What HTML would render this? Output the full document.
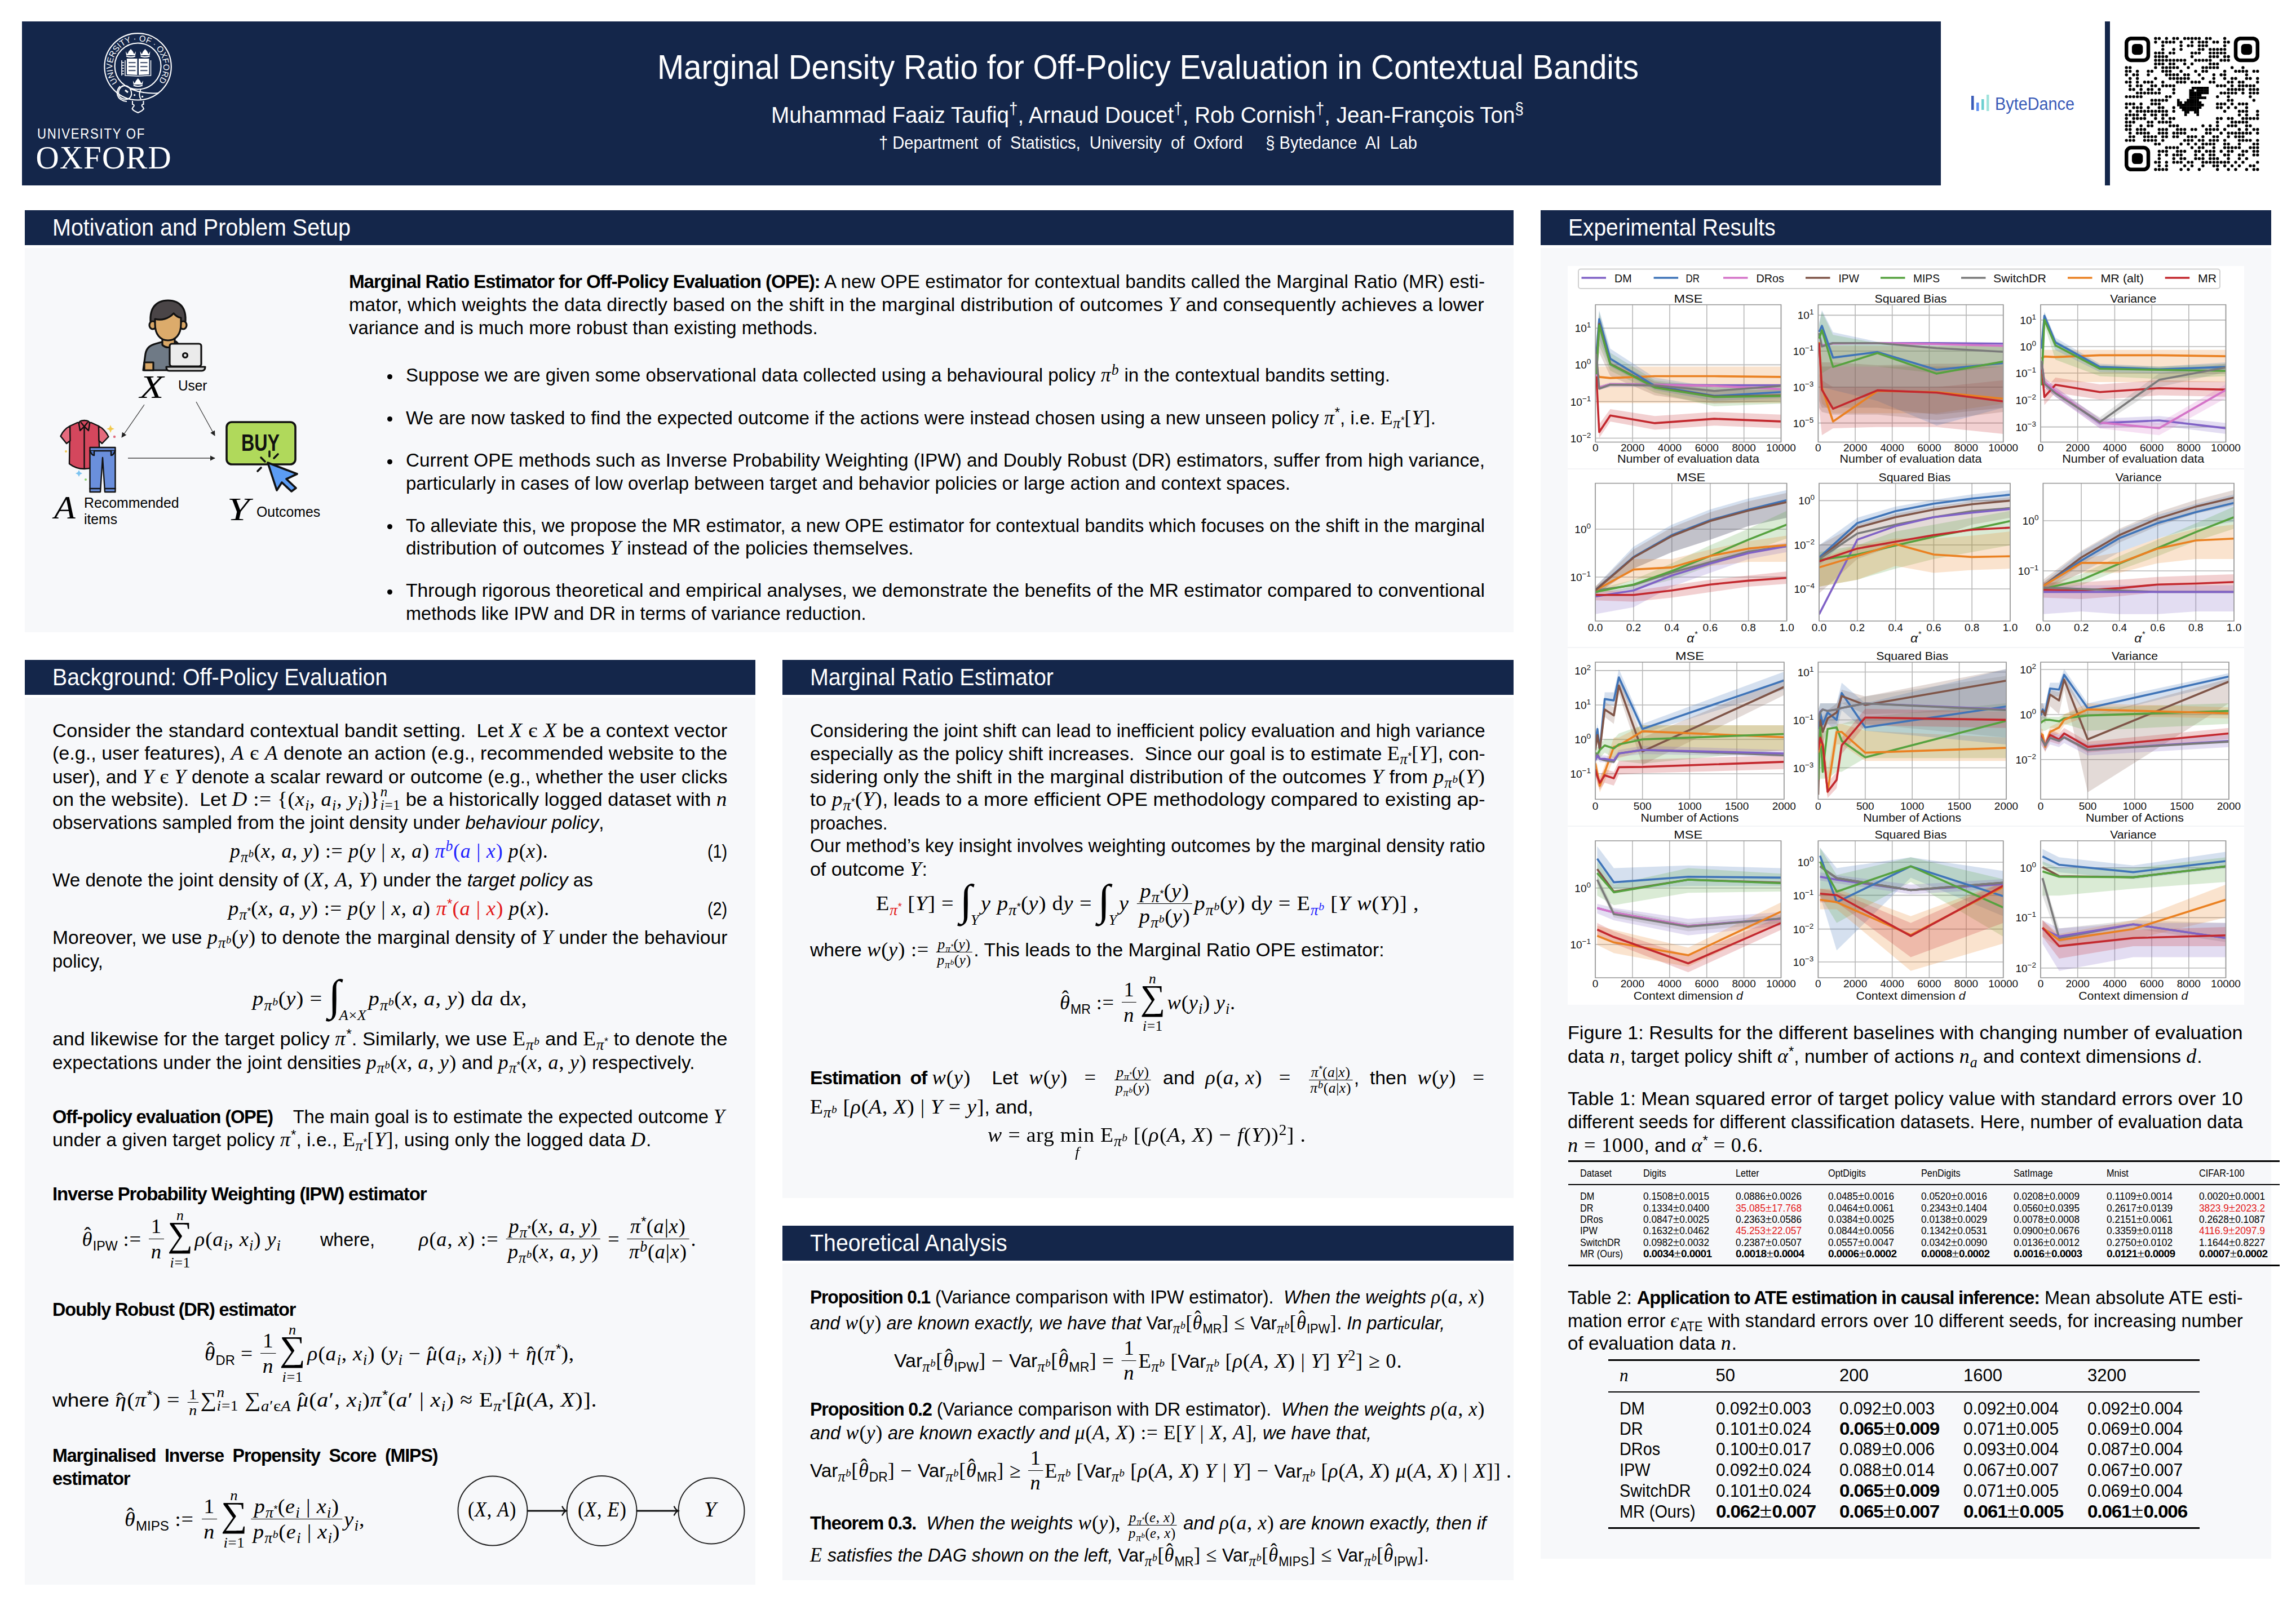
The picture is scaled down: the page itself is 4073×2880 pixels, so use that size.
<!DOCTYPE html><html><head><meta charset="utf-8"><title>poster</title><style>
html,body{margin:0;padding:0;background:#fff;}
body{width:4073px;height:2880px;position:relative;overflow:hidden;font-family:"Liberation Sans",sans-serif;color:#000;}
.L{position:absolute;white-space:nowrap;line-height:1;transform-origin:0 0;}
.s{font-family:"Liberation Sans",sans-serif;}
.b{font-family:"Liberation Sans",sans-serif;font-weight:bold;}
.mi{font-family:"Liberation Serif",serif;font-style:italic;font-size:1.08em;letter-spacing:0.03em;}
.mi .mi,.mi .mr,.mr .mi,.mr .mr{font-size:1em;}
.mr{font-family:"Liberation Serif",serif;font-style:normal;font-size:1.08em;letter-spacing:0.02em;}
.it{font-style:italic;}
.bf{font-weight:bold;}
sub,sup{font-size:0.72em;line-height:0;position:relative;vertical-align:baseline;}
sub{top:0.32em;}
sup{top:-0.5em;}
.fr{display:inline-block;vertical-align:-0.65em;text-align:center;margin:0 0.1em;}
.fr .nu{display:block;padding:0 0.1em 0.08em;border-bottom:0.05em solid currentColor;line-height:1.05;}
.fr .de{display:block;padding:0.08em 0.1em 0;line-height:1.05;}
.frs{display:inline-block;vertical-align:-0.62em;text-align:center;font-size:0.7em;margin:0 0.1em;}
.frs .nu{display:block;padding:0 0.1em 0.02em;border-bottom:0.07em solid currentColor;line-height:1.0;}
.frs .de{display:block;padding:0.04em 0.1em 0;line-height:1.0;}
.op{display:inline-block;position:relative;margin:0 0.1em;line-height:1;}
.op .sy{font-family:"Liberation Serif",serif;font-size:1.85em;line-height:1;}
.op .lt,.op .lb{position:absolute;left:-1em;right:-1em;text-align:center;font-size:0.7em;line-height:1;white-space:nowrap;}
.op .lt{top:-0.62em;}
.op .lb{top:2.9em;}
.int{font-family:"Liberation Serif",serif;font-size:2.27em;vertical-align:-0.1em;line-height:1;}
.isub{font-size:0.68em;position:relative;top:1.1em;margin-left:-0.12em;margin-right:0.12em;}
.hat{position:relative;display:inline-block;}
.hat>span{position:absolute;left:0.1em;top:-0.2em;font-style:normal;}
.hatx>span{top:0.02em;left:0.05em;}
b{letter-spacing:-0.035em;}
.pm{font-family:"Liberation Serif",serif;font-size:1.2em;line-height:0;}
.bm{display:inline-block;width:0;height:0;}
</style></head><body>
<div style="position:absolute;left:39px;top:38px;width:3404px;height:291px;background:#14264a;"></div>
<div style="position:absolute;left:3734px;top:38px;width:9px;height:291px;background:#14264a;"></div>
<div style="position:absolute;left:44px;top:373px;width:2641px;height:62px;background:#14264a;"></div>
<div style="position:absolute;left:44px;top:440px;width:2641px;height:682px;background:#f7f8fa;"></div>
<div style="position:absolute;left:44px;top:1171px;width:1296px;height:62px;background:#14264a;"></div>
<div style="position:absolute;left:44px;top:1238px;width:1296px;height:1574px;background:#f7f8fa;"></div>
<div style="position:absolute;left:1388px;top:1171px;width:1297px;height:62px;background:#14264a;"></div>
<div style="position:absolute;left:1388px;top:1238px;width:1297px;height:888px;background:#f7f8fa;"></div>
<div style="position:absolute;left:1388px;top:2175px;width:1297px;height:62px;background:#14264a;"></div>
<div style="position:absolute;left:1388px;top:2242px;width:1297px;height:562px;background:#f7f8fa;"></div>
<div style="position:absolute;left:2733px;top:373px;width:1296px;height:62px;background:#14264a;"></div>
<div style="position:absolute;left:2733px;top:440px;width:1296px;height:2326px;background:#f7f8fa;"></div>
<svg style="position:absolute;left:0;top:0" width="420" height="330" viewBox="0 0 420 330"><g fill="none" stroke="#fff"><circle cx="244.6" cy="118.3" r="59.2" stroke-width="2.1"/><circle cx="244.6" cy="117.5" r="41" stroke-width="2.1"/></g><defs><path id="ring" d="M 208.98,146.13 A 45.2 45.2 0 1 1 280.22,146.13"/></defs><text font-family="Liberation Sans" font-size="15" fill="#fff"><textPath href="#ring" textLength="200" lengthAdjust="spacingAndGlyphs">UNIVERSITY · OF · OXFORD</textPath></text><path d="M223,91 L226,96 L228.5,91 L232,87 L235.5,91 L238,96 L241,91 L240,98 L224,98 Z" fill="#fff"/><path d="M224,99.5 Q232,102.5 240,99.5" stroke="#fff" stroke-width="2" fill="none"/><path d="M248.5,91 L251.5,96 L254.0,91 L257.5,87 L261.0,91 L263.5,96 L266.5,91 L265.5,98 L249.5,98 Z" fill="#fff"/><path d="M249.5,99.5 Q257.5,102.5 265.5,99.5" stroke="#fff" stroke-width="2" fill="none"/><path d="M235.8,143 L238.8,148 L241.3,143 L244.8,139 L248.3,143 L250.8,148 L253.8,143 L252.8,150 L236.8,150 Z" fill="#fff"/><path d="M236.8,151.5 Q244.8,154.5 252.8,151.5" stroke="#fff" stroke-width="2" fill="none"/><path d="M225,104 L243.5,104 L243.5,133 L225,132 Z M246,104 L264.5,104 L264.5,132 L246,133 Z" fill="#fff"/><path d="M222,107 L222,134 L244.8,135 L267.5,134 L267.5,107" fill="none" stroke="#fff" stroke-width="1.5"/><path d="M216,107 L216,134 M216,111 L220,111 M216,116 L220,116 M216,121 L220,121 M216,126 L220,126 M216,131 L220,131" stroke="#fff" stroke-width="1.6"/><rect x="228" y="110" width="12.5" height="2.2" fill="#14264a" opacity="0.75"/><rect x="249" y="110" width="12.5" height="2.2" fill="#14264a" opacity="0.75"/><rect x="228" y="117" width="12.5" height="2.2" fill="#14264a" opacity="0.75"/><rect x="249" y="117" width="12.5" height="2.2" fill="#14264a" opacity="0.75"/><rect x="228" y="124" width="12.5" height="2.2" fill="#14264a" opacity="0.75"/><rect x="249" y="124" width="12.5" height="2.2" fill="#14264a" opacity="0.75"/><g fill="none" stroke="#fff" stroke-width="2"><path d="M218,152 C207,158 207,175 222,176 C230,177 236,170 232,160 C229,152 221,150 216,154"/><path d="M213,153 C204,162 206,178 225,180"/><path d="M232,158 C245,163 262,167 282,165"/><path d="M250,158 C246,165 247,172 250,176"/><line x1="222" y1="160" x2="227" y2="164" stroke-width="3"/></g><circle cx="238.7" cy="168.7" r="1.6" fill="#fff"/><circle cx="252.6" cy="171.4" r="1.6" fill="#fff"/><path d="M235,179 L235,185 C238,185 239,188 236,190 L234.5,193 C236,196 240,198 244.8,200 C249.5,198 253.5,196 255,193 L253.5,190 C250.5,188 251.5,185 254.5,185 L254.5,179" fill="none" stroke="#fff" stroke-width="2"/></svg>
<svg style="position:absolute;left:3769px;top:65px" width="240" height="240" viewBox="0 0 240 240"><g fill="#000"><circle cx="54.9" cy="3.2" r="2.71"/><circle cx="61.4" cy="3.2" r="2.71"/><circle cx="74.3" cy="3.2" r="2.71"/><circle cx="87.2" cy="3.2" r="2.71"/><circle cx="93.7" cy="3.2" r="2.71"/><circle cx="106.6" cy="3.2" r="2.71"/><circle cx="113.0" cy="3.2" r="2.71"/><circle cx="119.5" cy="3.2" r="2.71"/><circle cx="126.0" cy="3.2" r="2.71"/><circle cx="132.4" cy="3.2" r="2.71"/><circle cx="145.3" cy="3.2" r="2.71"/><circle cx="151.8" cy="3.2" r="2.71"/><circle cx="177.6" cy="3.2" r="2.71"/><circle cx="54.9" cy="9.7" r="2.71"/><circle cx="67.8" cy="9.7" r="2.71"/><circle cx="74.3" cy="9.7" r="2.71"/><circle cx="80.7" cy="9.7" r="2.71"/><circle cx="87.2" cy="9.7" r="2.71"/><circle cx="100.1" cy="9.7" r="2.71"/><circle cx="119.5" cy="9.7" r="2.71"/><circle cx="132.4" cy="9.7" r="2.71"/><circle cx="138.9" cy="9.7" r="2.71"/><circle cx="145.3" cy="9.7" r="2.71"/><circle cx="158.3" cy="9.7" r="2.71"/><circle cx="164.7" cy="9.7" r="2.71"/><circle cx="177.6" cy="9.7" r="2.71"/><circle cx="184.1" cy="9.7" r="2.71"/><circle cx="67.8" cy="16.1" r="2.71"/><circle cx="100.1" cy="16.1" r="2.71"/><circle cx="113.0" cy="16.1" r="2.71"/><circle cx="119.5" cy="16.1" r="2.71"/><circle cx="132.4" cy="16.1" r="2.71"/><circle cx="138.9" cy="16.1" r="2.71"/><circle cx="145.3" cy="16.1" r="2.71"/><circle cx="177.6" cy="16.1" r="2.71"/><circle cx="67.8" cy="22.6" r="2.71"/><circle cx="87.2" cy="22.6" r="2.71"/><circle cx="100.1" cy="22.6" r="2.71"/><circle cx="132.4" cy="22.6" r="2.71"/><circle cx="138.9" cy="22.6" r="2.71"/><circle cx="151.8" cy="22.6" r="2.71"/><circle cx="158.3" cy="22.6" r="2.71"/><circle cx="164.7" cy="22.6" r="2.71"/><circle cx="171.2" cy="22.6" r="2.71"/><circle cx="177.6" cy="22.6" r="2.71"/><circle cx="54.9" cy="29.1" r="2.71"/><circle cx="61.4" cy="29.1" r="2.71"/><circle cx="67.8" cy="29.1" r="2.71"/><circle cx="80.7" cy="29.1" r="2.71"/><circle cx="87.2" cy="29.1" r="2.71"/><circle cx="119.5" cy="29.1" r="2.71"/><circle cx="126.0" cy="29.1" r="2.71"/><circle cx="132.4" cy="29.1" r="2.71"/><circle cx="151.8" cy="29.1" r="2.71"/><circle cx="158.3" cy="29.1" r="2.71"/><circle cx="164.7" cy="29.1" r="2.71"/><circle cx="171.2" cy="29.1" r="2.71"/><circle cx="177.6" cy="29.1" r="2.71"/><circle cx="54.9" cy="35.5" r="2.71"/><circle cx="61.4" cy="35.5" r="2.71"/><circle cx="67.8" cy="35.5" r="2.71"/><circle cx="74.3" cy="35.5" r="2.71"/><circle cx="119.5" cy="35.5" r="2.71"/><circle cx="151.8" cy="35.5" r="2.71"/><circle cx="158.3" cy="35.5" r="2.71"/><circle cx="164.7" cy="35.5" r="2.71"/><circle cx="177.6" cy="35.5" r="2.71"/><circle cx="184.1" cy="35.5" r="2.71"/><circle cx="54.9" cy="42.0" r="2.71"/><circle cx="61.4" cy="42.0" r="2.71"/><circle cx="67.8" cy="42.0" r="2.71"/><circle cx="74.3" cy="42.0" r="2.71"/><circle cx="80.7" cy="42.0" r="2.71"/><circle cx="87.2" cy="42.0" r="2.71"/><circle cx="93.7" cy="42.0" r="2.71"/><circle cx="100.1" cy="42.0" r="2.71"/><circle cx="106.6" cy="42.0" r="2.71"/><circle cx="126.0" cy="42.0" r="2.71"/><circle cx="132.4" cy="42.0" r="2.71"/><circle cx="138.9" cy="42.0" r="2.71"/><circle cx="145.3" cy="42.0" r="2.71"/><circle cx="151.8" cy="42.0" r="2.71"/><circle cx="171.2" cy="42.0" r="2.71"/><circle cx="177.6" cy="42.0" r="2.71"/><circle cx="184.1" cy="42.0" r="2.71"/><circle cx="54.9" cy="48.4" r="2.71"/><circle cx="61.4" cy="48.4" r="2.71"/><circle cx="67.8" cy="48.4" r="2.71"/><circle cx="80.7" cy="48.4" r="2.71"/><circle cx="87.2" cy="48.4" r="2.71"/><circle cx="106.6" cy="48.4" r="2.71"/><circle cx="119.5" cy="48.4" r="2.71"/><circle cx="151.8" cy="48.4" r="2.71"/><circle cx="158.3" cy="48.4" r="2.71"/><circle cx="164.7" cy="48.4" r="2.71"/><circle cx="3.2" cy="54.9" r="2.71"/><circle cx="9.7" cy="54.9" r="2.71"/><circle cx="54.9" cy="54.9" r="2.71"/><circle cx="67.8" cy="54.9" r="2.71"/><circle cx="74.3" cy="54.9" r="2.71"/><circle cx="80.7" cy="54.9" r="2.71"/><circle cx="87.2" cy="54.9" r="2.71"/><circle cx="93.7" cy="54.9" r="2.71"/><circle cx="113.0" cy="54.9" r="2.71"/><circle cx="138.9" cy="54.9" r="2.71"/><circle cx="145.3" cy="54.9" r="2.71"/><circle cx="151.8" cy="54.9" r="2.71"/><circle cx="158.3" cy="54.9" r="2.71"/><circle cx="164.7" cy="54.9" r="2.71"/><circle cx="190.6" cy="54.9" r="2.71"/><circle cx="209.9" cy="54.9" r="2.71"/><circle cx="3.2" cy="61.4" r="2.71"/><circle cx="9.7" cy="61.4" r="2.71"/><circle cx="22.6" cy="61.4" r="2.71"/><circle cx="42.0" cy="61.4" r="2.71"/><circle cx="48.4" cy="61.4" r="2.71"/><circle cx="67.8" cy="61.4" r="2.71"/><circle cx="74.3" cy="61.4" r="2.71"/><circle cx="80.7" cy="61.4" r="2.71"/><circle cx="100.1" cy="61.4" r="2.71"/><circle cx="126.0" cy="61.4" r="2.71"/><circle cx="138.9" cy="61.4" r="2.71"/><circle cx="145.3" cy="61.4" r="2.71"/><circle cx="177.6" cy="61.4" r="2.71"/><circle cx="197.0" cy="61.4" r="2.71"/><circle cx="203.5" cy="61.4" r="2.71"/><circle cx="209.9" cy="61.4" r="2.71"/><circle cx="216.4" cy="61.4" r="2.71"/><circle cx="229.3" cy="61.4" r="2.71"/><circle cx="235.8" cy="61.4" r="2.71"/><circle cx="3.2" cy="67.8" r="2.71"/><circle cx="16.1" cy="67.8" r="2.71"/><circle cx="22.6" cy="67.8" r="2.71"/><circle cx="42.0" cy="67.8" r="2.71"/><circle cx="74.3" cy="67.8" r="2.71"/><circle cx="80.7" cy="67.8" r="2.71"/><circle cx="87.2" cy="67.8" r="2.71"/><circle cx="93.7" cy="67.8" r="2.71"/><circle cx="106.6" cy="67.8" r="2.71"/><circle cx="113.0" cy="67.8" r="2.71"/><circle cx="132.4" cy="67.8" r="2.71"/><circle cx="158.3" cy="67.8" r="2.71"/><circle cx="171.2" cy="67.8" r="2.71"/><circle cx="177.6" cy="67.8" r="2.71"/><circle cx="216.4" cy="67.8" r="2.71"/><circle cx="9.7" cy="74.3" r="2.71"/><circle cx="22.6" cy="74.3" r="2.71"/><circle cx="54.9" cy="74.3" r="2.71"/><circle cx="80.7" cy="74.3" r="2.71"/><circle cx="87.2" cy="74.3" r="2.71"/><circle cx="93.7" cy="74.3" r="2.71"/><circle cx="100.1" cy="74.3" r="2.71"/><circle cx="106.6" cy="74.3" r="2.71"/><circle cx="113.0" cy="74.3" r="2.71"/><circle cx="138.9" cy="74.3" r="2.71"/><circle cx="158.3" cy="74.3" r="2.71"/><circle cx="177.6" cy="74.3" r="2.71"/><circle cx="190.6" cy="74.3" r="2.71"/><circle cx="197.0" cy="74.3" r="2.71"/><circle cx="216.4" cy="74.3" r="2.71"/><circle cx="222.9" cy="74.3" r="2.71"/><circle cx="235.8" cy="74.3" r="2.71"/><circle cx="3.2" cy="80.7" r="2.71"/><circle cx="9.7" cy="80.7" r="2.71"/><circle cx="22.6" cy="80.7" r="2.71"/><circle cx="35.5" cy="80.7" r="2.71"/><circle cx="42.0" cy="80.7" r="2.71"/><circle cx="48.4" cy="80.7" r="2.71"/><circle cx="67.8" cy="80.7" r="2.71"/><circle cx="93.7" cy="80.7" r="2.71"/><circle cx="100.1" cy="80.7" r="2.71"/><circle cx="106.6" cy="80.7" r="2.71"/><circle cx="119.5" cy="80.7" r="2.71"/><circle cx="126.0" cy="80.7" r="2.71"/><circle cx="132.4" cy="80.7" r="2.71"/><circle cx="151.8" cy="80.7" r="2.71"/><circle cx="158.3" cy="80.7" r="2.71"/><circle cx="184.1" cy="80.7" r="2.71"/><circle cx="190.6" cy="80.7" r="2.71"/><circle cx="203.5" cy="80.7" r="2.71"/><circle cx="209.9" cy="80.7" r="2.71"/><circle cx="235.8" cy="80.7" r="2.71"/><circle cx="9.7" cy="87.2" r="2.71"/><circle cx="22.6" cy="87.2" r="2.71"/><circle cx="29.1" cy="87.2" r="2.71"/><circle cx="48.4" cy="87.2" r="2.71"/><circle cx="54.9" cy="87.2" r="2.71"/><circle cx="67.8" cy="87.2" r="2.71"/><circle cx="74.3" cy="87.2" r="2.71"/><circle cx="80.7" cy="87.2" r="2.71"/><circle cx="87.2" cy="87.2" r="2.71"/><circle cx="164.7" cy="87.2" r="2.71"/><circle cx="171.2" cy="87.2" r="2.71"/><circle cx="177.6" cy="87.2" r="2.71"/><circle cx="190.6" cy="87.2" r="2.71"/><circle cx="203.5" cy="87.2" r="2.71"/><circle cx="209.9" cy="87.2" r="2.71"/><circle cx="216.4" cy="87.2" r="2.71"/><circle cx="222.9" cy="87.2" r="2.71"/><circle cx="229.3" cy="87.2" r="2.71"/><circle cx="9.7" cy="93.7" r="2.71"/><circle cx="16.1" cy="93.7" r="2.71"/><circle cx="29.1" cy="93.7" r="2.71"/><circle cx="42.0" cy="93.7" r="2.71"/><circle cx="48.4" cy="93.7" r="2.71"/><circle cx="61.4" cy="93.7" r="2.71"/><circle cx="87.2" cy="93.7" r="2.71"/><circle cx="184.1" cy="93.7" r="2.71"/><circle cx="190.6" cy="93.7" r="2.71"/><circle cx="197.0" cy="93.7" r="2.71"/><circle cx="203.5" cy="93.7" r="2.71"/><circle cx="209.9" cy="93.7" r="2.71"/><circle cx="222.9" cy="93.7" r="2.71"/><circle cx="229.3" cy="93.7" r="2.71"/><circle cx="235.8" cy="93.7" r="2.71"/><circle cx="22.6" cy="100.1" r="2.71"/><circle cx="29.1" cy="100.1" r="2.71"/><circle cx="35.5" cy="100.1" r="2.71"/><circle cx="42.0" cy="100.1" r="2.71"/><circle cx="48.4" cy="100.1" r="2.71"/><circle cx="54.9" cy="100.1" r="2.71"/><circle cx="61.4" cy="100.1" r="2.71"/><circle cx="87.2" cy="100.1" r="2.71"/><circle cx="171.2" cy="100.1" r="2.71"/><circle cx="177.6" cy="100.1" r="2.71"/><circle cx="184.1" cy="100.1" r="2.71"/><circle cx="190.6" cy="100.1" r="2.71"/><circle cx="197.0" cy="100.1" r="2.71"/><circle cx="209.9" cy="100.1" r="2.71"/><circle cx="222.9" cy="100.1" r="2.71"/><circle cx="229.3" cy="100.1" r="2.71"/><circle cx="235.8" cy="100.1" r="2.71"/><circle cx="3.2" cy="106.6" r="2.71"/><circle cx="9.7" cy="106.6" r="2.71"/><circle cx="16.1" cy="106.6" r="2.71"/><circle cx="22.6" cy="106.6" r="2.71"/><circle cx="29.1" cy="106.6" r="2.71"/><circle cx="74.3" cy="106.6" r="2.71"/><circle cx="80.7" cy="106.6" r="2.71"/><circle cx="164.7" cy="106.6" r="2.71"/><circle cx="184.1" cy="106.6" r="2.71"/><circle cx="222.9" cy="106.6" r="2.71"/><circle cx="48.4" cy="113.0" r="2.71"/><circle cx="54.9" cy="113.0" r="2.71"/><circle cx="61.4" cy="113.0" r="2.71"/><circle cx="67.8" cy="113.0" r="2.71"/><circle cx="74.3" cy="113.0" r="2.71"/><circle cx="184.1" cy="113.0" r="2.71"/><circle cx="190.6" cy="113.0" r="2.71"/><circle cx="229.3" cy="113.0" r="2.71"/><circle cx="3.2" cy="119.5" r="2.71"/><circle cx="9.7" cy="119.5" r="2.71"/><circle cx="16.1" cy="119.5" r="2.71"/><circle cx="29.1" cy="119.5" r="2.71"/><circle cx="48.4" cy="119.5" r="2.71"/><circle cx="54.9" cy="119.5" r="2.71"/><circle cx="61.4" cy="119.5" r="2.71"/><circle cx="164.7" cy="119.5" r="2.71"/><circle cx="171.2" cy="119.5" r="2.71"/><circle cx="177.6" cy="119.5" r="2.71"/><circle cx="190.6" cy="119.5" r="2.71"/><circle cx="203.5" cy="119.5" r="2.71"/><circle cx="209.9" cy="119.5" r="2.71"/><circle cx="216.4" cy="119.5" r="2.71"/><circle cx="3.2" cy="126.0" r="2.71"/><circle cx="16.1" cy="126.0" r="2.71"/><circle cx="22.6" cy="126.0" r="2.71"/><circle cx="29.1" cy="126.0" r="2.71"/><circle cx="42.0" cy="126.0" r="2.71"/><circle cx="61.4" cy="126.0" r="2.71"/><circle cx="67.8" cy="126.0" r="2.71"/><circle cx="87.2" cy="126.0" r="2.71"/><circle cx="164.7" cy="126.0" r="2.71"/><circle cx="171.2" cy="126.0" r="2.71"/><circle cx="184.1" cy="126.0" r="2.71"/><circle cx="197.0" cy="126.0" r="2.71"/><circle cx="216.4" cy="126.0" r="2.71"/><circle cx="9.7" cy="132.4" r="2.71"/><circle cx="22.6" cy="132.4" r="2.71"/><circle cx="29.1" cy="132.4" r="2.71"/><circle cx="35.5" cy="132.4" r="2.71"/><circle cx="42.0" cy="132.4" r="2.71"/><circle cx="48.4" cy="132.4" r="2.71"/><circle cx="54.9" cy="132.4" r="2.71"/><circle cx="61.4" cy="132.4" r="2.71"/><circle cx="67.8" cy="132.4" r="2.71"/><circle cx="74.3" cy="132.4" r="2.71"/><circle cx="87.2" cy="132.4" r="2.71"/><circle cx="177.6" cy="132.4" r="2.71"/><circle cx="203.5" cy="132.4" r="2.71"/><circle cx="209.9" cy="132.4" r="2.71"/><circle cx="216.4" cy="132.4" r="2.71"/><circle cx="235.8" cy="132.4" r="2.71"/><circle cx="3.2" cy="138.9" r="2.71"/><circle cx="9.7" cy="138.9" r="2.71"/><circle cx="16.1" cy="138.9" r="2.71"/><circle cx="22.6" cy="138.9" r="2.71"/><circle cx="35.5" cy="138.9" r="2.71"/><circle cx="48.4" cy="138.9" r="2.71"/><circle cx="54.9" cy="138.9" r="2.71"/><circle cx="67.8" cy="138.9" r="2.71"/><circle cx="74.3" cy="138.9" r="2.71"/><circle cx="203.5" cy="138.9" r="2.71"/><circle cx="216.4" cy="138.9" r="2.71"/><circle cx="235.8" cy="138.9" r="2.71"/><circle cx="3.2" cy="145.3" r="2.71"/><circle cx="16.1" cy="145.3" r="2.71"/><circle cx="22.6" cy="145.3" r="2.71"/><circle cx="29.1" cy="145.3" r="2.71"/><circle cx="35.5" cy="145.3" r="2.71"/><circle cx="54.9" cy="145.3" r="2.71"/><circle cx="67.8" cy="145.3" r="2.71"/><circle cx="80.7" cy="145.3" r="2.71"/><circle cx="87.2" cy="145.3" r="2.71"/><circle cx="164.7" cy="145.3" r="2.71"/><circle cx="171.2" cy="145.3" r="2.71"/><circle cx="184.1" cy="145.3" r="2.71"/><circle cx="190.6" cy="145.3" r="2.71"/><circle cx="209.9" cy="145.3" r="2.71"/><circle cx="216.4" cy="145.3" r="2.71"/><circle cx="222.9" cy="145.3" r="2.71"/><circle cx="229.3" cy="145.3" r="2.71"/><circle cx="235.8" cy="145.3" r="2.71"/><circle cx="3.2" cy="151.8" r="2.71"/><circle cx="9.7" cy="151.8" r="2.71"/><circle cx="16.1" cy="151.8" r="2.71"/><circle cx="42.0" cy="151.8" r="2.71"/><circle cx="48.4" cy="151.8" r="2.71"/><circle cx="61.4" cy="151.8" r="2.71"/><circle cx="67.8" cy="151.8" r="2.71"/><circle cx="74.3" cy="151.8" r="2.71"/><circle cx="80.7" cy="151.8" r="2.71"/><circle cx="164.7" cy="151.8" r="2.71"/><circle cx="190.6" cy="151.8" r="2.71"/><circle cx="197.0" cy="151.8" r="2.71"/><circle cx="203.5" cy="151.8" r="2.71"/><circle cx="209.9" cy="151.8" r="2.71"/><circle cx="216.4" cy="151.8" r="2.71"/><circle cx="3.2" cy="158.3" r="2.71"/><circle cx="9.7" cy="158.3" r="2.71"/><circle cx="29.1" cy="158.3" r="2.71"/><circle cx="42.0" cy="158.3" r="2.71"/><circle cx="48.4" cy="158.3" r="2.71"/><circle cx="80.7" cy="158.3" r="2.71"/><circle cx="87.2" cy="158.3" r="2.71"/><circle cx="93.7" cy="158.3" r="2.71"/><circle cx="138.9" cy="158.3" r="2.71"/><circle cx="151.8" cy="158.3" r="2.71"/><circle cx="164.7" cy="158.3" r="2.71"/><circle cx="184.1" cy="158.3" r="2.71"/><circle cx="190.6" cy="158.3" r="2.71"/><circle cx="197.0" cy="158.3" r="2.71"/><circle cx="216.4" cy="158.3" r="2.71"/><circle cx="222.9" cy="158.3" r="2.71"/><circle cx="3.2" cy="164.7" r="2.71"/><circle cx="9.7" cy="164.7" r="2.71"/><circle cx="22.6" cy="164.7" r="2.71"/><circle cx="29.1" cy="164.7" r="2.71"/><circle cx="35.5" cy="164.7" r="2.71"/><circle cx="61.4" cy="164.7" r="2.71"/><circle cx="67.8" cy="164.7" r="2.71"/><circle cx="74.3" cy="164.7" r="2.71"/><circle cx="93.7" cy="164.7" r="2.71"/><circle cx="100.1" cy="164.7" r="2.71"/><circle cx="106.6" cy="164.7" r="2.71"/><circle cx="119.5" cy="164.7" r="2.71"/><circle cx="126.0" cy="164.7" r="2.71"/><circle cx="145.3" cy="164.7" r="2.71"/><circle cx="151.8" cy="164.7" r="2.71"/><circle cx="158.3" cy="164.7" r="2.71"/><circle cx="164.7" cy="164.7" r="2.71"/><circle cx="177.6" cy="164.7" r="2.71"/><circle cx="203.5" cy="164.7" r="2.71"/><circle cx="216.4" cy="164.7" r="2.71"/><circle cx="229.3" cy="164.7" r="2.71"/><circle cx="235.8" cy="164.7" r="2.71"/><circle cx="9.7" cy="171.2" r="2.71"/><circle cx="22.6" cy="171.2" r="2.71"/><circle cx="29.1" cy="171.2" r="2.71"/><circle cx="35.5" cy="171.2" r="2.71"/><circle cx="42.0" cy="171.2" r="2.71"/><circle cx="61.4" cy="171.2" r="2.71"/><circle cx="67.8" cy="171.2" r="2.71"/><circle cx="74.3" cy="171.2" r="2.71"/><circle cx="87.2" cy="171.2" r="2.71"/><circle cx="93.7" cy="171.2" r="2.71"/><circle cx="100.1" cy="171.2" r="2.71"/><circle cx="106.6" cy="171.2" r="2.71"/><circle cx="145.3" cy="171.2" r="2.71"/><circle cx="151.8" cy="171.2" r="2.71"/><circle cx="171.2" cy="171.2" r="2.71"/><circle cx="184.1" cy="171.2" r="2.71"/><circle cx="190.6" cy="171.2" r="2.71"/><circle cx="197.0" cy="171.2" r="2.71"/><circle cx="203.5" cy="171.2" r="2.71"/><circle cx="209.9" cy="171.2" r="2.71"/><circle cx="216.4" cy="171.2" r="2.71"/><circle cx="222.9" cy="171.2" r="2.71"/><circle cx="235.8" cy="171.2" r="2.71"/><circle cx="9.7" cy="177.6" r="2.71"/><circle cx="16.1" cy="177.6" r="2.71"/><circle cx="35.5" cy="177.6" r="2.71"/><circle cx="42.0" cy="177.6" r="2.71"/><circle cx="48.4" cy="177.6" r="2.71"/><circle cx="54.9" cy="177.6" r="2.71"/><circle cx="67.8" cy="177.6" r="2.71"/><circle cx="74.3" cy="177.6" r="2.71"/><circle cx="87.2" cy="177.6" r="2.71"/><circle cx="93.7" cy="177.6" r="2.71"/><circle cx="113.0" cy="177.6" r="2.71"/><circle cx="119.5" cy="177.6" r="2.71"/><circle cx="126.0" cy="177.6" r="2.71"/><circle cx="138.9" cy="177.6" r="2.71"/><circle cx="158.3" cy="177.6" r="2.71"/><circle cx="164.7" cy="177.6" r="2.71"/><circle cx="184.1" cy="177.6" r="2.71"/><circle cx="197.0" cy="177.6" r="2.71"/><circle cx="203.5" cy="177.6" r="2.71"/><circle cx="209.9" cy="177.6" r="2.71"/><circle cx="3.2" cy="184.1" r="2.71"/><circle cx="9.7" cy="184.1" r="2.71"/><circle cx="16.1" cy="184.1" r="2.71"/><circle cx="35.5" cy="184.1" r="2.71"/><circle cx="42.0" cy="184.1" r="2.71"/><circle cx="48.4" cy="184.1" r="2.71"/><circle cx="54.9" cy="184.1" r="2.71"/><circle cx="67.8" cy="184.1" r="2.71"/><circle cx="106.6" cy="184.1" r="2.71"/><circle cx="113.0" cy="184.1" r="2.71"/><circle cx="119.5" cy="184.1" r="2.71"/><circle cx="132.4" cy="184.1" r="2.71"/><circle cx="138.9" cy="184.1" r="2.71"/><circle cx="151.8" cy="184.1" r="2.71"/><circle cx="158.3" cy="184.1" r="2.71"/><circle cx="164.7" cy="184.1" r="2.71"/><circle cx="177.6" cy="184.1" r="2.71"/><circle cx="203.5" cy="184.1" r="2.71"/><circle cx="209.9" cy="184.1" r="2.71"/><circle cx="216.4" cy="184.1" r="2.71"/><circle cx="222.9" cy="184.1" r="2.71"/><circle cx="235.8" cy="184.1" r="2.71"/><circle cx="54.9" cy="190.6" r="2.71"/><circle cx="61.4" cy="190.6" r="2.71"/><circle cx="100.1" cy="190.6" r="2.71"/><circle cx="113.0" cy="190.6" r="2.71"/><circle cx="126.0" cy="190.6" r="2.71"/><circle cx="138.9" cy="190.6" r="2.71"/><circle cx="145.3" cy="190.6" r="2.71"/><circle cx="151.8" cy="190.6" r="2.71"/><circle cx="158.3" cy="190.6" r="2.71"/><circle cx="177.6" cy="190.6" r="2.71"/><circle cx="184.1" cy="190.6" r="2.71"/><circle cx="203.5" cy="190.6" r="2.71"/><circle cx="229.3" cy="190.6" r="2.71"/><circle cx="235.8" cy="190.6" r="2.71"/><circle cx="74.3" cy="197.0" r="2.71"/><circle cx="80.7" cy="197.0" r="2.71"/><circle cx="87.2" cy="197.0" r="2.71"/><circle cx="93.7" cy="197.0" r="2.71"/><circle cx="119.5" cy="197.0" r="2.71"/><circle cx="132.4" cy="197.0" r="2.71"/><circle cx="138.9" cy="197.0" r="2.71"/><circle cx="158.3" cy="197.0" r="2.71"/><circle cx="177.6" cy="197.0" r="2.71"/><circle cx="184.1" cy="197.0" r="2.71"/><circle cx="190.6" cy="197.0" r="2.71"/><circle cx="197.0" cy="197.0" r="2.71"/><circle cx="203.5" cy="197.0" r="2.71"/><circle cx="222.9" cy="197.0" r="2.71"/><circle cx="229.3" cy="197.0" r="2.71"/><circle cx="235.8" cy="197.0" r="2.71"/><circle cx="61.4" cy="203.5" r="2.71"/><circle cx="67.8" cy="203.5" r="2.71"/><circle cx="74.3" cy="203.5" r="2.71"/><circle cx="93.7" cy="203.5" r="2.71"/><circle cx="100.1" cy="203.5" r="2.71"/><circle cx="106.6" cy="203.5" r="2.71"/><circle cx="126.0" cy="203.5" r="2.71"/><circle cx="132.4" cy="203.5" r="2.71"/><circle cx="145.3" cy="203.5" r="2.71"/><circle cx="151.8" cy="203.5" r="2.71"/><circle cx="158.3" cy="203.5" r="2.71"/><circle cx="171.2" cy="203.5" r="2.71"/><circle cx="184.1" cy="203.5" r="2.71"/><circle cx="190.6" cy="203.5" r="2.71"/><circle cx="209.9" cy="203.5" r="2.71"/><circle cx="216.4" cy="203.5" r="2.71"/><circle cx="229.3" cy="203.5" r="2.71"/><circle cx="235.8" cy="203.5" r="2.71"/><circle cx="61.4" cy="209.9" r="2.71"/><circle cx="74.3" cy="209.9" r="2.71"/><circle cx="87.2" cy="209.9" r="2.71"/><circle cx="93.7" cy="209.9" r="2.71"/><circle cx="100.1" cy="209.9" r="2.71"/><circle cx="126.0" cy="209.9" r="2.71"/><circle cx="138.9" cy="209.9" r="2.71"/><circle cx="151.8" cy="209.9" r="2.71"/><circle cx="158.3" cy="209.9" r="2.71"/><circle cx="177.6" cy="209.9" r="2.71"/><circle cx="184.1" cy="209.9" r="2.71"/><circle cx="203.5" cy="209.9" r="2.71"/><circle cx="209.9" cy="209.9" r="2.71"/><circle cx="229.3" cy="209.9" r="2.71"/><circle cx="235.8" cy="209.9" r="2.71"/><circle cx="61.4" cy="216.4" r="2.71"/><circle cx="87.2" cy="216.4" r="2.71"/><circle cx="100.1" cy="216.4" r="2.71"/><circle cx="106.6" cy="216.4" r="2.71"/><circle cx="126.0" cy="216.4" r="2.71"/><circle cx="132.4" cy="216.4" r="2.71"/><circle cx="138.9" cy="216.4" r="2.71"/><circle cx="151.8" cy="216.4" r="2.71"/><circle cx="158.3" cy="216.4" r="2.71"/><circle cx="164.7" cy="216.4" r="2.71"/><circle cx="184.1" cy="216.4" r="2.71"/><circle cx="203.5" cy="216.4" r="2.71"/><circle cx="216.4" cy="216.4" r="2.71"/><circle cx="54.9" cy="222.9" r="2.71"/><circle cx="61.4" cy="222.9" r="2.71"/><circle cx="74.3" cy="222.9" r="2.71"/><circle cx="87.2" cy="222.9" r="2.71"/><circle cx="93.7" cy="222.9" r="2.71"/><circle cx="100.1" cy="222.9" r="2.71"/><circle cx="113.0" cy="222.9" r="2.71"/><circle cx="119.5" cy="222.9" r="2.71"/><circle cx="138.9" cy="222.9" r="2.71"/><circle cx="145.3" cy="222.9" r="2.71"/><circle cx="151.8" cy="222.9" r="2.71"/><circle cx="158.3" cy="222.9" r="2.71"/><circle cx="164.7" cy="222.9" r="2.71"/><circle cx="171.2" cy="222.9" r="2.71"/><circle cx="177.6" cy="222.9" r="2.71"/><circle cx="184.1" cy="222.9" r="2.71"/><circle cx="197.0" cy="222.9" r="2.71"/><circle cx="209.9" cy="222.9" r="2.71"/><circle cx="235.8" cy="222.9" r="2.71"/><circle cx="61.4" cy="229.3" r="2.71"/><circle cx="74.3" cy="229.3" r="2.71"/><circle cx="106.6" cy="229.3" r="2.71"/><circle cx="119.5" cy="229.3" r="2.71"/><circle cx="138.9" cy="229.3" r="2.71"/><circle cx="158.3" cy="229.3" r="2.71"/><circle cx="164.7" cy="229.3" r="2.71"/><circle cx="177.6" cy="229.3" r="2.71"/><circle cx="190.6" cy="229.3" r="2.71"/><circle cx="203.5" cy="229.3" r="2.71"/><circle cx="222.9" cy="229.3" r="2.71"/><circle cx="229.3" cy="229.3" r="2.71"/><circle cx="54.9" cy="235.8" r="2.71"/><circle cx="61.4" cy="235.8" r="2.71"/><circle cx="67.8" cy="235.8" r="2.71"/><circle cx="74.3" cy="235.8" r="2.71"/><circle cx="100.1" cy="235.8" r="2.71"/><circle cx="113.0" cy="235.8" r="2.71"/><circle cx="132.4" cy="235.8" r="2.71"/><circle cx="164.7" cy="235.8" r="2.71"/><circle cx="184.1" cy="235.8" r="2.71"/><circle cx="197.0" cy="235.8" r="2.71"/><circle cx="216.4" cy="235.8" r="2.71"/><circle cx="229.3" cy="235.8" r="2.71"/><circle cx="235.8" cy="235.8" r="2.71"/></g><rect x="3.2" y="3.2" width="38.8" height="38.8" rx="8.4" fill="none" stroke="#000" stroke-width="6.5"/><rect x="12.9" y="12.9" width="19.4" height="19.4" rx="5.8" fill="#000"/><rect x="197.0" y="3.2" width="38.8" height="38.8" rx="8.4" fill="none" stroke="#000" stroke-width="6.5"/><rect x="206.7" y="12.9" width="19.4" height="19.4" rx="5.8" fill="#000"/><rect x="3.2" y="197.0" width="38.8" height="38.8" rx="8.4" fill="none" stroke="#000" stroke-width="6.5"/><rect x="12.9" y="206.7" width="19.4" height="19.4" rx="5.8" fill="#000"/><g fill="#000"><rect x="118.8" y="89.0" width="4.6" height="4.6"/><rect x="123.1" y="89.0" width="4.6" height="4.6"/><rect x="127.4" y="89.0" width="4.6" height="4.6"/><rect x="131.7" y="89.0" width="4.6" height="4.6"/><rect x="136.0" y="89.0" width="4.6" height="4.6"/><rect x="140.3" y="89.0" width="4.6" height="4.6"/><rect x="144.6" y="89.0" width="4.6" height="4.6"/><rect x="114.5" y="93.3" width="4.6" height="4.6"/><rect x="118.8" y="93.3" width="4.6" height="4.6"/><rect x="127.4" y="93.3" width="4.6" height="4.6"/><rect x="131.7" y="93.3" width="4.6" height="4.6"/><rect x="136.0" y="93.3" width="4.6" height="4.6"/><rect x="140.3" y="93.3" width="4.6" height="4.6"/><rect x="144.6" y="93.3" width="4.6" height="4.6"/><rect x="114.5" y="97.6" width="4.6" height="4.6"/><rect x="118.8" y="97.6" width="4.6" height="4.6"/><rect x="123.1" y="97.6" width="4.6" height="4.6"/><rect x="127.4" y="97.6" width="4.6" height="4.6"/><rect x="131.7" y="97.6" width="4.6" height="4.6"/><rect x="136.0" y="97.6" width="4.6" height="4.6"/><rect x="140.3" y="97.6" width="4.6" height="4.6"/><rect x="144.6" y="97.6" width="4.6" height="4.6"/><rect x="114.5" y="101.9" width="4.6" height="4.6"/><rect x="118.8" y="101.9" width="4.6" height="4.6"/><rect x="123.1" y="101.9" width="4.6" height="4.6"/><rect x="127.4" y="101.9" width="4.6" height="4.6"/><rect x="131.7" y="101.9" width="4.6" height="4.6"/><rect x="114.5" y="106.2" width="4.6" height="4.6"/><rect x="118.8" y="106.2" width="4.6" height="4.6"/><rect x="123.1" y="106.2" width="4.6" height="4.6"/><rect x="127.4" y="106.2" width="4.6" height="4.6"/><rect x="131.7" y="106.2" width="4.6" height="4.6"/><rect x="136.0" y="106.2" width="4.6" height="4.6"/><rect x="140.3" y="106.2" width="4.6" height="4.6"/><rect x="93.0" y="110.5" width="4.6" height="4.6"/><rect x="110.2" y="110.5" width="4.6" height="4.6"/><rect x="114.5" y="110.5" width="4.6" height="4.6"/><rect x="118.8" y="110.5" width="4.6" height="4.6"/><rect x="123.1" y="110.5" width="4.6" height="4.6"/><rect x="127.4" y="110.5" width="4.6" height="4.6"/><rect x="93.0" y="114.8" width="4.6" height="4.6"/><rect x="97.3" y="114.8" width="4.6" height="4.6"/><rect x="105.9" y="114.8" width="4.6" height="4.6"/><rect x="110.2" y="114.8" width="4.6" height="4.6"/><rect x="114.5" y="114.8" width="4.6" height="4.6"/><rect x="118.8" y="114.8" width="4.6" height="4.6"/><rect x="123.1" y="114.8" width="4.6" height="4.6"/><rect x="127.4" y="114.8" width="4.6" height="4.6"/><rect x="131.7" y="114.8" width="4.6" height="4.6"/><rect x="93.0" y="119.1" width="4.6" height="4.6"/><rect x="97.3" y="119.1" width="4.6" height="4.6"/><rect x="101.6" y="119.1" width="4.6" height="4.6"/><rect x="105.9" y="119.1" width="4.6" height="4.6"/><rect x="110.2" y="119.1" width="4.6" height="4.6"/><rect x="114.5" y="119.1" width="4.6" height="4.6"/><rect x="118.8" y="119.1" width="4.6" height="4.6"/><rect x="123.1" y="119.1" width="4.6" height="4.6"/><rect x="127.4" y="119.1" width="4.6" height="4.6"/><rect x="131.7" y="119.1" width="4.6" height="4.6"/><rect x="136.0" y="119.1" width="4.6" height="4.6"/><rect x="97.3" y="123.4" width="4.6" height="4.6"/><rect x="101.6" y="123.4" width="4.6" height="4.6"/><rect x="105.9" y="123.4" width="4.6" height="4.6"/><rect x="110.2" y="123.4" width="4.6" height="4.6"/><rect x="114.5" y="123.4" width="4.6" height="4.6"/><rect x="118.8" y="123.4" width="4.6" height="4.6"/><rect x="123.1" y="123.4" width="4.6" height="4.6"/><rect x="127.4" y="123.4" width="4.6" height="4.6"/><rect x="131.7" y="123.4" width="4.6" height="4.6"/><rect x="101.6" y="127.7" width="4.6" height="4.6"/><rect x="105.9" y="127.7" width="4.6" height="4.6"/><rect x="110.2" y="127.7" width="4.6" height="4.6"/><rect x="114.5" y="127.7" width="4.6" height="4.6"/><rect x="118.8" y="127.7" width="4.6" height="4.6"/><rect x="123.1" y="127.7" width="4.6" height="4.6"/><rect x="127.4" y="127.7" width="4.6" height="4.6"/><rect x="105.9" y="132.0" width="4.6" height="4.6"/><rect x="110.2" y="132.0" width="4.6" height="4.6"/><rect x="123.1" y="132.0" width="4.6" height="4.6"/><rect x="127.4" y="132.0" width="4.6" height="4.6"/><rect x="105.9" y="136.3" width="4.6" height="4.6"/><rect x="127.4" y="136.3" width="4.6" height="4.6"/></g></svg>
<svg style="position:absolute;left:3490px;top:160px" width="60" height="50" viewBox="0 0 60 50"><rect x="7" y="10" width="4.5" height="25" fill="#3a5bb8"/><rect x="16" y="22" width="4.5" height="15" fill="#5d8ef0"/><rect x="25" y="16" width="4.5" height="19" fill="#6ccfd0"/><rect x="34" y="8" width="4.5" height="29" fill="#9fe3dc"/></svg>
<svg style="position:absolute;left:0;top:0" width="700" height="1000" viewBox="0 0 700 1000"><g stroke="#111" stroke-width="3.2" stroke-linejoin="round" stroke-linecap="round"><path d="M254,657 L258,628 C260,617 266,613 276,610 L290,606 L312,606 L318,612 L318,657 Z" fill="#6f7a86"/><path d="M288,596 L288,612 C294,618 304,618 310,612 L310,596 Z" fill="#d9a766"/><path d="M256,643 L272,643 L272,657 L256,657 Z" fill="#d9a766"/><path d="M268,578 C263,548 276,533 298,533 C320,533 333,548 328,578 Z" fill="#4a4547"/><ellipse cx="271" cy="577" rx="6" ry="7" fill="#d9a766"/><ellipse cx="325" cy="577" rx="6" ry="7" fill="#d9a766"/><path d="M275,566 C286,569 299,566 308,556 C312,561 316,563 321,564 L321,575 C321,593 312,604 298,604 C284,604 275,593 275,575 Z" fill="#dcab6b"/><rect x="301" y="610" width="56" height="40" rx="4" fill="#ebebeb"/><path d="M295,651 L364,651 C364,656 361,658 358,658 L300,658 C297,658 295,656 295,651 Z" fill="#d7d7d7"/><circle cx="328.5" cy="630.5" r="4" fill="none"/></g><defs><marker id="ah" viewBox="0 0 10 10" refX="9" refY="5" markerWidth="7" markerHeight="7" orient="auto-start-reverse"><path d="M0,0 L10,5 L0,10 z" fill="#222"/></marker></defs><g stroke="#444" stroke-width="1.3" fill="none" marker-end="url(#ah)"><line x1="256" y1="718" x2="216" y2="776"/><line x1="348" y1="713" x2="381" y2="773"/><line x1="227" y1="813" x2="381" y2="813"/></g><g stroke="#111" stroke-width="2.4" stroke-linejoin="round" stroke-linecap="round"><path d="M124,756 L137,750 L162,750 L175,756 L177,822 C167,830 158,832 149.5,832 C141,832 132,830 123,823 Z" fill="#d4475d"/><path d="M124,756 C116,760 111,766 107.5,774 L118,787 L124.5,782 Z" fill="#e56b7e"/><path d="M175,756 C183,760 188,766 192.5,775 L181,787 L175.5,782 Z" fill="#e56b7e"/><path d="M140,752 C140,747 144,746 149.5,746 C155,746 159,747 159,752 L157,764 L149.5,757 L142,764 Z" fill="#d4475d"/><path d="M144,750 L149.5,757 L155,750" fill="none"/><line x1="149.5" y1="757" x2="149.5" y2="831"/><path d="M159.5,794 L204.5,794 L204.5,873 L186,873 L182,812 L178,873 L159.5,873 Z" fill="#6a8fdc"/><line x1="159.5" y1="800" x2="204.5" y2="800"/><line x1="159.5" y1="867" x2="178" y2="867"/><line x1="186" y1="867" x2="204.5" y2="867"/><path d="M160,800 C162,806 165,808 167,808 L167,800 M204,800 C202,806 199,808 197,808 L197,800" fill="#4b72c4"/></g><path d="M196,754 L198,759 L203,761 L198,763 L196,768 L194,763 L189,761 L194,759 Z" fill="#f2c94c"/><circle cx="203" cy="775" r="2.2" fill="#e06a7c"/><circle cx="117" cy="801" r="2" fill="#f2c94c"/><path d="M140,834 L142,838 L146,840 L142,842 L140,846 L138,842 L134,840 L138,838 Z" fill="#7cc3f0"/><circle cx="152" cy="851" r="2" fill="#8bd16a"/><g stroke="#111" stroke-width="3.6" stroke-linejoin="round" stroke-linecap="round"><rect x="402" y="749" width="122" height="75" rx="9" fill="#b0d95b"/><line x1="463" y1="812" x2="470" y2="819"/><line x1="478" y1="801" x2="478" y2="810"/><line x1="493" y1="806" x2="486" y2="813"/><line x1="457" y1="836" x2="463" y2="830"/><path d="M475,821 L527,841 L508,850 L525,866 L517,872 L500,856 L491,870 Z" fill="#5b9cf4"/></g><text x="428" y="800" font-family="Liberation Sans" font-weight="bold" font-size="43" fill="#111" textLength="68" lengthAdjust="spacingAndGlyphs">BUY</text></svg>
<div style="position:absolute;left:687px;top:663.7px;width:9px;height:9px;background:#000;border-radius:50%"></div>
<div style="position:absolute;left:687px;top:739.1px;width:9px;height:9px;background:#000;border-radius:50%"></div>
<div style="position:absolute;left:687px;top:814.5px;width:9px;height:9px;background:#000;border-radius:50%"></div>
<div style="position:absolute;left:687px;top:930.3px;width:9px;height:9px;background:#000;border-radius:50%"></div>
<div style="position:absolute;left:687px;top:1045.5px;width:9px;height:9px;background:#000;border-radius:50%"></div>
<svg style="position:absolute;left:700px;top:2560px" width="640" height="250" viewBox="700 2560 640 250"><defs><marker id="ah2" viewBox="0 0 10 10" refX="9" refY="5" markerWidth="9" markerHeight="9" orient="auto"><path d="M0,1 L10,5 L0,9" fill="none" stroke="#111" stroke-width="1.6"/></marker></defs><g fill="none" stroke="#222" stroke-width="2"><circle cx="874" cy="2681" r="61.5"/><circle cx="1067.5" cy="2681" r="62"/><circle cx="1262" cy="2681" r="58.5"/></g><g stroke="#111" stroke-width="2.8" fill="none" stroke-linecap="round"><line x1="936" y1="2681" x2="1004" y2="2681"/><line x1="1130" y1="2681" x2="1202" y2="2681"/><path d="M997.5,2673.5 Q1000.5,2679.5 1004.5,2681 Q1000.5,2682.5 997.5,2688.5" stroke-width="2.4"/><path d="M1196,2673.5 Q1199,2679.5 1203,2681 Q1199,2682.5 1196,2688.5" stroke-width="2.4"/></g></svg>
<svg style="position:absolute;left:2781px;top:472px" width="1200" height="1311" viewBox="2781 472 1200 1311" font-family="Liberation Sans"><rect x="2781" y="472" width="1200" height="1311" fill="#fff"/><rect x="2781" y="831" width="1200" height="2" fill="#f3f4f6"/><rect x="2781" y="1148" width="1200" height="2" fill="#f3f4f6"/><rect x="2781" y="1465" width="1200" height="2" fill="#f3f4f6"/><rect x="2800" y="477.5" width="1138" height="34.5" rx="4" fill="#fff" stroke="#d0d0d0" stroke-width="2"/><line x1="2805.5" y1="493" x2="2849.0" y2="493" stroke="#8062c6" stroke-width="3.5"/><text x="2864" y="500.5" font-size="20" fill="#111" textLength="30.6" lengthAdjust="spacingAndGlyphs">DM</text><line x1="2933.6" y1="493" x2="2977.1" y2="493" stroke="#3f74b8" stroke-width="3.5"/><text x="2990.5" y="500.5" font-size="20" fill="#111" textLength="24.5" lengthAdjust="spacingAndGlyphs">DR</text><line x1="3057" y1="493" x2="3100.5" y2="493" stroke="#d474c8" stroke-width="3.5"/><text x="3115.4" y="500.5" font-size="20" fill="#111" textLength="49.6" lengthAdjust="spacingAndGlyphs">DRos</text><line x1="3203" y1="493" x2="3246.5" y2="493" stroke="#7f5548" stroke-width="3.5"/><text x="3261.5" y="500.5" font-size="20" fill="#111" textLength="36.5" lengthAdjust="spacingAndGlyphs">IPW</text><line x1="3336" y1="493" x2="3379.5" y2="493" stroke="#56a23f" stroke-width="3.5"/><text x="3394" y="500.5" font-size="20" fill="#111" textLength="47.0" lengthAdjust="spacingAndGlyphs">MIPS</text><line x1="3479" y1="493" x2="3522.5" y2="493" stroke="#7a7a7a" stroke-width="3.5"/><text x="3536" y="500.5" font-size="20" fill="#111" textLength="94.0" lengthAdjust="spacingAndGlyphs">SwitchDR</text><line x1="3668" y1="493" x2="3711.5" y2="493" stroke="#ea8122" stroke-width="3.5"/><text x="3726.4" y="500.5" font-size="20" fill="#111" textLength="76.6" lengthAdjust="spacingAndGlyphs">MR (alt)</text><line x1="3840.7" y1="493" x2="3884.2" y2="493" stroke="#c3282e" stroke-width="3.5"/><text x="3899" y="500.5" font-size="20" fill="#111" textLength="33.0" lengthAdjust="spacingAndGlyphs">MR</text><text x="2994.9" y="537" font-size="20.5" text-anchor="middle" fill="#111" textLength="51" lengthAdjust="spacingAndGlyphs">MSE</text><clipPath id="c10"><rect x="2830.3" y="540.7" width="329.1999999999998" height="243.79999999999995"/></clipPath><path d="M2830.3,540.7V784.5M2896.1,540.7V784.5M2962.0,540.7V784.5M3027.8,540.7V784.5M3093.7,540.7V784.5M3159.5,540.7V784.5M2830.3,582.4H3159.5M2830.3,647.4H3159.5M2830.3,712.5H3159.5M2830.3,777.5H3159.5" stroke="#b8b8b8" stroke-width="1.6" fill="none"/><g clip-path="url(#c10)"><path d="M2831.9,650.4 L2836.9,650.4 L2856.6,650.4 L2935.6,650.4 L3041.0,650.4 L3159.5,650.4 L3159.5,715.3 L3041.0,715.3 L2935.6,715.3 L2856.6,715.3 L2836.9,715.3 L2831.9,715.3Z" fill="#ea8122" fill-opacity="0.22"/><path d="M2831.9,613.8 L2836.9,552.9 L2856.6,626.0 L2935.6,674.8 L3041.0,687.0 L3159.5,687.0 L3159.5,716.2 L3041.0,721.1 L2935.6,696.7 L2856.6,657.7 L2836.9,613.8 L2831.9,687.0Z" fill="#56a23f" fill-opacity="0.22"/><path d="M2831.9,601.7 L2836.9,550.5 L2856.6,618.7 L2935.6,669.9 L3041.0,687.0 L3159.5,687.0 L3159.5,706.5 L3041.0,711.4 L2935.6,691.9 L2856.6,650.4 L2836.9,601.7 L2831.9,674.8Z" fill="#3f74b8" fill-opacity="0.22"/><path d="M2831.9,626.0 L2836.9,560.2 L2856.6,638.2 L2935.6,677.2 L3041.0,691.9 L3159.5,691.9 L3159.5,711.4 L3041.0,716.2 L2935.6,701.6 L2856.6,667.5 L2836.9,626.0 L2831.9,691.9Z" fill="#7f5548" fill-opacity="0.22"/><path d="M2831.9,655.3 L2836.9,752.8 L2856.6,726.0 L2935.6,738.2 L3041.0,730.9 L3159.5,735.7 L3159.5,760.1 L3041.0,755.2 L2935.6,762.6 L2856.6,747.9 L2836.9,777.2 L2831.9,679.7Z" fill="#c3282e" fill-opacity="0.22"/><path d="M2831.9,660.2 L2836.9,684.5 L2856.6,678.4 L2935.6,679.7 L3041.0,680.9 L3159.5,680.9 L3159.5,687.0 L3041.0,687.0 L2935.6,687.0 L2856.6,687.0 L2836.9,691.9 L2831.9,669.9Z" fill="#8062c6" fill-opacity="0.22"/><path d="M2831.9,658.2 L2836.9,668.9 L2856.6,670.9 L2935.6,667.5 L3041.0,667.5 L3159.5,668.9" stroke="#ea8122" stroke-width="3.6" fill="none" stroke-linejoin="round"/><path d="M2831.9,664.1 L2836.9,687.7 L2856.6,681.9 L2935.6,682.8 L3041.0,683.8 L3159.5,683.8" stroke="#8062c6" stroke-width="3.6" fill="none" stroke-linejoin="round"/><path d="M2831.9,664.1 L2836.9,687.7 L2856.6,681.9 L2935.6,682.8 L3041.0,684.8 L3159.5,690.6" stroke="#d474c8" stroke-width="3.6" fill="none" stroke-linejoin="round"/><path d="M2831.9,628.5 L2836.9,566.3 L2856.6,636.5 L2935.6,684.8 L3041.0,702.6 L3159.5,695.8" stroke="#3f74b8" stroke-width="3.6" fill="none" stroke-linejoin="round"/><path d="M2831.9,650.4 L2836.9,574.8 L2856.6,645.5 L2935.6,687.0 L3041.0,703.6 L3159.5,701.6" stroke="#7f5548" stroke-width="3.6" fill="none" stroke-linejoin="round"/><path d="M2831.9,664.1 L2836.9,577.3 L2856.6,646.3 L2935.6,687.7 L3041.0,704.5 L3159.5,702.6" stroke="#56a23f" stroke-width="3.6" fill="none" stroke-linejoin="round"/><path d="M2831.9,628.5 L2836.9,689.7 L2856.6,682.8 L2935.6,683.8 L3041.0,693.8 L3159.5,684.8" stroke="#7a7a7a" stroke-width="3.6" fill="none" stroke-linejoin="round"/><path d="M2831.9,668.0 L2836.9,766.7 L2856.6,737.2 L2935.6,750.9 L3041.0,743.1 L3159.5,747.9" stroke="#c3282e" stroke-width="3.6" fill="none" stroke-linejoin="round"/></g><rect x="2830.3" y="540.7" width="329.1999999999998" height="243.79999999999995" fill="none" stroke="#9a9a9a" stroke-width="1.6"/><text x="2830.3" y="801" font-size="19" text-anchor="middle" fill="#111">0</text><text x="2896.1" y="801" font-size="19" text-anchor="middle" fill="#111">2000</text><text x="2962.0" y="801" font-size="19" text-anchor="middle" fill="#111">4000</text><text x="3027.8" y="801" font-size="19" text-anchor="middle" fill="#111">6000</text><text x="3093.7" y="801" font-size="19" text-anchor="middle" fill="#111">8000</text><text x="3159.5" y="801" font-size="19" text-anchor="middle" fill="#111">10000</text><text x="2822.3" y="589.4" font-size="19" text-anchor="end" fill="#111"><tspan>10</tspan><tspan font-size="13.5" dy="-8">1</tspan></text><text x="2822.3" y="654.4" font-size="19" text-anchor="end" fill="#111"><tspan>10</tspan><tspan font-size="13.5" dy="-8">0</tspan></text><text x="2822.3" y="719.5" font-size="19" text-anchor="end" fill="#111"><tspan>10</tspan><tspan font-size="13.5" dy="-8">−1</tspan></text><text x="2822.3" y="784.5" font-size="19" text-anchor="end" fill="#111"><tspan>10</tspan><tspan font-size="13.5" dy="-8">−2</tspan></text><text x="2994.9" y="821" font-size="21" text-anchor="middle" fill="#111" textLength="252" lengthAdjust="spacingAndGlyphs">Number of evaluation data</text><text x="3389.55" y="537" font-size="20.5" text-anchor="middle" fill="#111" textLength="128" lengthAdjust="spacingAndGlyphs">Squared Bias</text><clipPath id="c11"><rect x="3225.4" y="540.7" width="328.2999999999997" height="243.79999999999995"/></clipPath><path d="M3225.4,540.7V784.5M3291.1,540.7V784.5M3356.7,540.7V784.5M3422.4,540.7V784.5M3488.0,540.7V784.5M3553.7,540.7V784.5M3225.4,559.4H3553.7M3225.4,623H3553.7M3225.4,686.9H3553.7M3225.4,750.6H3553.7" stroke="#b8b8b8" stroke-width="1.6" fill="none"/><g clip-path="url(#c11)"><path d="M3227.0,662.6 L3232.0,674.8 L3251.7,687.0 L3330.5,687.0 L3435.5,687.0 L3553.7,674.8 L3553.7,769.9 L3435.5,757.7 L3330.5,757.7 L3251.7,760.1 L3232.0,772.3 L3227.0,723.5Z" fill="#c3282e" fill-opacity="0.22"/><path d="M3227.0,606.5 L3232.0,613.8 L3251.7,613.8 L3330.5,613.8 L3435.5,613.8 L3553.7,613.8 L3553.7,716.2 L3435.5,733.3 L3330.5,733.3 L3251.7,733.3 L3232.0,716.2 L3227.0,687.0Z" fill="#ea8122" fill-opacity="0.22"/><path d="M3227.0,572.4 L3232.0,550.5 L3251.7,589.5 L3330.5,606.5 L3435.5,609.0 L3553.7,609.0 L3553.7,723.5 L3435.5,755.2 L3330.5,711.4 L3251.7,691.9 L3232.0,687.0 L3227.0,609.0Z" fill="#3f74b8" fill-opacity="0.22"/><path d="M3227.0,577.3 L3232.0,552.9 L3251.7,594.3 L3330.5,609.0 L3435.5,613.8 L3553.7,613.8 L3553.7,650.4 L3435.5,662.6 L3330.5,650.4 L3251.7,650.4 L3232.0,662.6 L3227.0,613.8Z" fill="#56a23f" fill-opacity="0.22"/><path d="M3227.0,613.8 L3232.0,643.1 L3251.7,643.1 L3330.5,648.0 L3435.5,645.5 L3553.7,645.5 L3553.7,730.9 L3435.5,745.5 L3330.5,735.7 L3251.7,735.7 L3232.0,730.9 L3227.0,723.5Z" fill="#7f5548" fill-opacity="0.22"/><path d="M3227.0,626.0 L3232.0,650.4 L3251.7,650.4 L3330.5,650.4 L3435.5,650.4 L3553.7,650.4 L3553.7,723.5 L3435.5,735.7 L3330.5,723.5 L3251.7,723.5 L3232.0,723.5 L3227.0,711.4Z" fill="#7f5548" fill-opacity="0.22"/><path d="M3227.0,608.7 L3232.0,612.9 L3251.7,608.7 L3330.5,608.7 L3435.5,608.7 L3553.7,609.7" stroke="#8062c6" stroke-width="3.6" fill="none" stroke-linejoin="round"/><path d="M3227.0,608.7 L3232.0,612.9 L3251.7,609.7 L3330.5,608.7 L3435.5,610.7 L3553.7,613.8" stroke="#d474c8" stroke-width="3.6" fill="none" stroke-linejoin="round"/><path d="M3227.0,590.9 L3232.0,614.8 L3251.7,608.7 L3330.5,608.7 L3435.5,617.7 L3553.7,624.3" stroke="#7a7a7a" stroke-width="3.6" fill="none" stroke-linejoin="round"/><path d="M3227.0,589.0 L3232.0,578.2 L3251.7,634.6 L3330.5,624.6 L3435.5,656.3 L3553.7,644.3" stroke="#3f74b8" stroke-width="3.6" fill="none" stroke-linejoin="round"/><path d="M3227.0,600.9 L3232.0,586.0 L3251.7,651.1 L3330.5,626.5 L3435.5,663.1 L3553.7,641.4" stroke="#56a23f" stroke-width="3.6" fill="none" stroke-linejoin="round"/><path d="M3227.0,606.8 L3232.0,687.7 L3251.7,747.9 L3330.5,693.8 L3435.5,695.8 L3553.7,707.5" stroke="#ea8122" stroke-width="3.6" fill="none" stroke-linejoin="round"/><path d="M3227.0,608.7 L3232.0,691.6 L3251.7,725.3 L3330.5,692.6 L3435.5,696.7 L3553.7,712.3" stroke="#c3282e" stroke-width="3.6" fill="none" stroke-linejoin="round"/></g><rect x="3225.4" y="540.7" width="328.2999999999997" height="243.79999999999995" fill="none" stroke="#9a9a9a" stroke-width="1.6"/><text x="3225.4" y="801" font-size="19" text-anchor="middle" fill="#111">0</text><text x="3291.1" y="801" font-size="19" text-anchor="middle" fill="#111">2000</text><text x="3356.7" y="801" font-size="19" text-anchor="middle" fill="#111">4000</text><text x="3422.4" y="801" font-size="19" text-anchor="middle" fill="#111">6000</text><text x="3488.0" y="801" font-size="19" text-anchor="middle" fill="#111">8000</text><text x="3553.7" y="801" font-size="19" text-anchor="middle" fill="#111">10000</text><text x="3217.4" y="566.4" font-size="19" text-anchor="end" fill="#111"><tspan>10</tspan><tspan font-size="13.5" dy="-8">1</tspan></text><text x="3217.4" y="630" font-size="19" text-anchor="end" fill="#111"><tspan>10</tspan><tspan font-size="13.5" dy="-8">−1</tspan></text><text x="3217.4" y="693.9" font-size="19" text-anchor="end" fill="#111"><tspan>10</tspan><tspan font-size="13.5" dy="-8">−3</tspan></text><text x="3217.4" y="757.6" font-size="19" text-anchor="end" fill="#111"><tspan>10</tspan><tspan font-size="13.5" dy="-8">−5</tspan></text><text x="3389.55" y="821" font-size="21" text-anchor="middle" fill="#111" textLength="252" lengthAdjust="spacingAndGlyphs">Number of evaluation data</text><text x="3784.25" y="537" font-size="20.5" text-anchor="middle" fill="#111" textLength="82" lengthAdjust="spacingAndGlyphs">Variance</text><clipPath id="c12"><rect x="3620" y="540.7" width="328.5" height="243.79999999999995"/></clipPath><path d="M3620.0,540.7V784.5M3685.7,540.7V784.5M3751.4,540.7V784.5M3817.1,540.7V784.5M3882.8,540.7V784.5M3948.5,540.7V784.5M3620,567.9H3948.5M3620,615H3948.5M3620,662H3948.5M3620,709.7H3948.5M3620,757.6H3948.5" stroke="#b8b8b8" stroke-width="1.6" fill="none"/><g clip-path="url(#c12)"><path d="M3621.6,620.7 L3626.6,620.7 L3646.3,620.7 L3725.1,620.7 L3830.2,620.7 L3948.5,620.7 L3948.5,678.0 L3830.2,678.0 L3725.1,678.0 L3646.3,678.0 L3626.6,678.0 L3621.6,678.0Z" fill="#ea8122" fill-opacity="0.22"/><path d="M3621.6,589.5 L3626.6,555.3 L3646.3,604.1 L3725.1,648.0 L3830.2,650.4 L3948.5,645.5 L3948.5,667.5 L3830.2,672.4 L3725.1,667.5 L3646.3,638.2 L3626.6,577.3 L3621.6,662.6Z" fill="#56a23f" fill-opacity="0.22"/><path d="M3621.6,601.7 L3626.6,552.9 L3646.3,599.2 L3725.1,645.5 L3830.2,650.4 L3948.5,643.1 L3948.5,657.7 L3830.2,662.6 L3725.1,660.2 L3646.3,621.2 L3626.6,570.0 L3621.6,650.4Z" fill="#3f74b8" fill-opacity="0.22"/><path d="M3621.6,630.9 L3626.6,691.9 L3646.3,669.9 L3725.1,682.1 L3830.2,674.8 L3948.5,677.2 L3948.5,704.0 L3830.2,701.6 L3725.1,708.9 L3646.3,696.7 L3626.6,718.7 L3621.6,657.7Z" fill="#c3282e" fill-opacity="0.22"/><path d="M3621.6,630.9 L3626.6,669.9 L3646.3,687.0 L3725.1,743.1 L3830.2,738.2 L3948.5,750.4 L3948.5,769.9 L3830.2,755.2 L3725.1,760.1 L3646.3,704.0 L3626.6,687.0 L3621.6,650.4Z" fill="#8062c6" fill-opacity="0.22"/><path d="M3621.6,630.9 L3626.6,669.9 L3646.3,687.0 L3725.1,743.1 L3830.2,750.4 L3948.5,682.1 L3948.5,706.5 L3830.2,772.3 L3725.1,760.1 L3646.3,704.0 L3626.6,687.0 L3621.6,650.4Z" fill="#d474c8" fill-opacity="0.22"/><path d="M3621.6,630.9 L3626.6,674.8 L3646.3,691.9 L3725.1,740.6 L3830.2,662.6 L3948.5,645.5 L3948.5,660.2 L3830.2,687.0 L3725.1,755.2 L3646.3,704.0 L3626.6,687.0 L3621.6,650.4Z" fill="#7a7a7a" fill-opacity="0.22"/><path d="M3621.6,636.5 L3626.6,632.6 L3646.3,633.6 L3725.1,630.4 L3830.2,630.4 L3948.5,632.1" stroke="#ea8122" stroke-width="3.6" fill="none" stroke-linejoin="round"/><path d="M3621.6,618.7 L3626.6,560.4 L3646.3,607.7 L3725.1,651.1 L3830.2,655.3 L3948.5,651.1" stroke="#3f74b8" stroke-width="3.6" fill="none" stroke-linejoin="round"/><path d="M3621.6,683.8 L3626.6,567.3 L3646.3,612.9 L3725.1,654.3 L3830.2,656.3 L3948.5,658.2" stroke="#56a23f" stroke-width="3.6" fill="none" stroke-linejoin="round"/><path d="M3621.6,644.3 L3626.6,704.5 L3646.3,682.8 L3725.1,695.8 L3830.2,688.7 L3948.5,691.4" stroke="#c3282e" stroke-width="3.6" fill="none" stroke-linejoin="round"/><path d="M3621.6,640.7 L3626.6,678.0 L3646.3,694.5 L3725.1,750.9 L3830.2,746.0 L3948.5,759.9" stroke="#8062c6" stroke-width="3.6" fill="none" stroke-linejoin="round"/><path d="M3621.6,640.7 L3626.6,678.0 L3646.3,694.5 L3725.1,749.9 L3830.2,759.9 L3948.5,691.9" stroke="#d474c8" stroke-width="3.6" fill="none" stroke-linejoin="round"/><path d="M3621.6,640.7 L3626.6,680.9 L3646.3,697.7 L3725.1,748.9 L3830.2,674.1 L3948.5,652.1" stroke="#7a7a7a" stroke-width="3.6" fill="none" stroke-linejoin="round"/></g><rect x="3620" y="540.7" width="328.5" height="243.79999999999995" fill="none" stroke="#9a9a9a" stroke-width="1.6"/><text x="3620.0" y="801" font-size="19" text-anchor="middle" fill="#111">0</text><text x="3685.7" y="801" font-size="19" text-anchor="middle" fill="#111">2000</text><text x="3751.4" y="801" font-size="19" text-anchor="middle" fill="#111">4000</text><text x="3817.1" y="801" font-size="19" text-anchor="middle" fill="#111">6000</text><text x="3882.8" y="801" font-size="19" text-anchor="middle" fill="#111">8000</text><text x="3948.5" y="801" font-size="19" text-anchor="middle" fill="#111">10000</text><text x="3612" y="574.9" font-size="19" text-anchor="end" fill="#111"><tspan>10</tspan><tspan font-size="13.5" dy="-8">1</tspan></text><text x="3612" y="622" font-size="19" text-anchor="end" fill="#111"><tspan>10</tspan><tspan font-size="13.5" dy="-8">0</tspan></text><text x="3612" y="669" font-size="19" text-anchor="end" fill="#111"><tspan>10</tspan><tspan font-size="13.5" dy="-8">−1</tspan></text><text x="3612" y="716.7" font-size="19" text-anchor="end" fill="#111"><tspan>10</tspan><tspan font-size="13.5" dy="-8">−2</tspan></text><text x="3612" y="764.6" font-size="19" text-anchor="end" fill="#111"><tspan>10</tspan><tspan font-size="13.5" dy="-8">−3</tspan></text><text x="3784.25" y="821" font-size="21" text-anchor="middle" fill="#111" textLength="252" lengthAdjust="spacingAndGlyphs">Number of evaluation data</text><text x="2999.8" y="854" font-size="20.5" text-anchor="middle" fill="#111" textLength="51" lengthAdjust="spacingAndGlyphs">MSE</text><clipPath id="c20"><rect x="2830" y="857.6" width="339.5999999999999" height="244.39999999999998"/></clipPath><path d="M2830.0,857.6V1102M2897.9,857.6V1102M2965.8,857.6V1102M3033.8,857.6V1102M3101.7,857.6V1102M3169.6,857.6V1102M2830,939H3169.6M2830,1024H3169.6" stroke="#b8b8b8" stroke-width="1.6" fill="none"/><g clip-path="url(#c20)"><path d="M2830.0,1040.9 L2897.9,970.0 L2965.8,930.9 L3033.8,904.0 L3101.7,884.5 L3169.6,869.8 L3169.6,918.7 L3101.7,933.4 L3033.8,957.8 L2965.8,979.8 L2897.9,1009.1 L2830.0,1055.6Z" fill="#3f74b8" fill-opacity="0.22"/><path d="M2830.0,1040.9 L2897.9,974.9 L2965.8,935.8 L3033.8,908.9 L3101.7,889.4 L3169.6,874.7 L3169.6,918.7 L3101.7,933.4 L3033.8,957.8 L2965.8,979.8 L2897.9,1009.1 L2830.0,1055.6Z" fill="#7f5548" fill-opacity="0.22"/><path d="M2830.0,1045.8 L2897.9,1028.7 L2965.8,999.4 L3033.8,967.6 L3101.7,938.3 L3169.6,906.5 L3169.6,955.4 L3101.7,979.8 L3033.8,1004.2 L2965.8,1028.7 L2897.9,1045.8 L2830.0,1053.1Z" fill="#56a23f" fill-opacity="0.22"/><path d="M2830.0,1040.9 L2897.9,992.0 L2965.8,992.0 L3033.8,974.9 L3101.7,960.2 L3169.6,950.5 L3169.6,996.9 L3101.7,996.9 L3033.8,1004.2 L2965.8,1021.3 L2897.9,1028.7 L2830.0,1053.1Z" fill="#ea8122" fill-opacity="0.22"/><path d="M2830.0,1053.1 L2897.9,1040.9 L2965.8,1011.6 L3033.8,992.0 L3101.7,972.5 L3169.6,962.7 L3169.6,979.8 L3101.7,992.0 L3033.8,1016.5 L2965.8,1040.9 L2897.9,1077.6 L2830.0,1089.8Z" fill="#8062c6" fill-opacity="0.22"/><path d="M2830.0,1048.2 L2897.9,1048.2 L2965.8,1038.5 L3033.8,1028.7 L3101.7,1021.3 L3169.6,1014.0 L3169.6,1036.0 L3101.7,1040.9 L3033.8,1050.7 L2965.8,1060.5 L2897.9,1067.8 L2830.0,1065.3Z" fill="#c3282e" fill-opacity="0.22"/><path d="M2830.0,1047.7 L2897.9,1038.2 L2965.8,1016.0 L3033.8,997.4 L3101.7,978.8 L3169.6,969.3" stroke="#7a7a7a" stroke-width="3.6" fill="none" stroke-linejoin="round"/><path d="M2830.0,1058.5 L2897.9,1047.7 L2965.8,1021.3 L3033.8,1000.1 L3101.7,981.5 L3169.6,969.3" stroke="#8062c6" stroke-width="3.6" fill="none" stroke-linejoin="round"/><path d="M2830.0,1050.4 L2897.9,1037.2 L2965.8,1013.3 L3033.8,986.6 L3101.7,957.6 L3169.6,930.9" stroke="#56a23f" stroke-width="3.6" fill="none" stroke-linejoin="round"/><path d="M2830.0,1047.7 L2897.9,1010.6 L2965.8,1006.9 L3033.8,986.6 L3101.7,973.4 L3169.6,967.1" stroke="#ea8122" stroke-width="3.6" fill="none" stroke-linejoin="round"/><path d="M2830.0,1046.8 L2897.9,988.4 L2965.8,949.5 L3033.8,922.9 L3101.7,904.3 L3169.6,887.4" stroke="#3f74b8" stroke-width="3.6" fill="none" stroke-linejoin="round"/><path d="M2830.0,1047.7 L2897.9,989.3 L2965.8,951.2 L3033.8,924.6 L3101.7,906.0 L3169.6,891.1" stroke="#7f5548" stroke-width="3.6" fill="none" stroke-linejoin="round"/><path d="M2830.0,1055.8 L2897.9,1055.8 L2965.8,1047.7 L3033.8,1037.2 L3101.7,1030.4 L3169.6,1025.5" stroke="#c3282e" stroke-width="3.6" fill="none" stroke-linejoin="round"/></g><rect x="2830" y="857.6" width="339.5999999999999" height="244.39999999999998" fill="none" stroke="#9a9a9a" stroke-width="1.6"/><text x="2830.0" y="1119.6" font-size="19" text-anchor="middle" fill="#111">0.0</text><text x="2897.9" y="1119.6" font-size="19" text-anchor="middle" fill="#111">0.2</text><text x="2965.8" y="1119.6" font-size="19" text-anchor="middle" fill="#111">0.4</text><text x="3033.8" y="1119.6" font-size="19" text-anchor="middle" fill="#111">0.6</text><text x="3101.7" y="1119.6" font-size="19" text-anchor="middle" fill="#111">0.8</text><text x="3169.6" y="1119.6" font-size="19" text-anchor="middle" fill="#111">1.0</text><text x="2822" y="946" font-size="19" text-anchor="end" fill="#111"><tspan>10</tspan><tspan font-size="13.5" dy="-8">0</tspan></text><text x="2822" y="1031" font-size="19" text-anchor="end" fill="#111"><tspan>10</tspan><tspan font-size="13.5" dy="-8">−1</tspan></text><text x="3001.8" y="1140" font-size="23" font-style="italic" fill="#111" text-anchor="middle">α<tspan font-size="15" dy="-10">*</tspan></text><text x="3396.5" y="854" font-size="20.5" text-anchor="middle" fill="#111" textLength="128" lengthAdjust="spacingAndGlyphs">Squared Bias</text><clipPath id="c21"><rect x="3227" y="857.6" width="339" height="244.39999999999998"/></clipPath><path d="M3227.0,857.6V1102M3294.8,857.6V1102M3362.6,857.6V1102M3430.4,857.6V1102M3498.2,857.6V1102M3566.0,857.6V1102M3227,888.4H3566M3227,967H3566M3227,1045H3566" stroke="#b8b8b8" stroke-width="1.6" fill="none"/><g clip-path="url(#c21)"><path d="M3227.0,967.6 L3294.8,918.7 L3362.6,899.1 L3430.4,886.9 L3498.2,877.2 L3566.0,869.8 L3566.0,886.9 L3498.2,891.8 L3430.4,901.6 L3362.6,916.3 L3294.8,938.3 L3227.0,1004.2Z" fill="#3f74b8" fill-opacity="0.22"/><path d="M3227.0,967.6 L3294.8,930.9 L3362.6,911.4 L3430.4,899.1 L3498.2,889.4 L3566.0,882.0 L3566.0,918.7 L3498.2,930.9 L3430.4,955.4 L3362.6,967.6 L3294.8,992.0 L3227.0,1053.1Z" fill="#7f5548" fill-opacity="0.22"/><path d="M3227.0,979.8 L3294.8,967.6 L3362.6,943.1 L3430.4,930.9 L3498.2,918.7 L3566.0,906.5 L3566.0,967.6 L3498.2,979.8 L3430.4,992.0 L3362.6,1009.1 L3294.8,1028.7 L3227.0,1040.9Z" fill="#56a23f" fill-opacity="0.22"/><path d="M3227.0,992.0 L3294.8,967.6 L3362.6,955.4 L3430.4,955.4 L3498.2,950.5 L3566.0,943.1 L3566.0,1009.1 L3498.2,1011.6 L3430.4,1016.5 L3362.6,1004.2 L3294.8,1028.7 L3227.0,1040.9Z" fill="#ea8122" fill-opacity="0.22"/><path d="M3227.0,989.3 L3294.8,928.2 L3362.6,907.0 L3430.4,893.8 L3498.2,884.7 L3566.0,877.9" stroke="#3f74b8" stroke-width="3.6" fill="none" stroke-linejoin="round"/><path d="M3227.0,992.0 L3294.8,936.3 L3362.6,917.7 L3430.4,904.3 L3498.2,894.7 L3566.0,888.4" stroke="#7f5548" stroke-width="3.6" fill="none" stroke-linejoin="round"/><path d="M3227.0,992.0 L3294.8,946.8 L3362.6,930.9 L3430.4,917.7 L3498.2,907.0 L3566.0,901.6" stroke="#7a7a7a" stroke-width="3.6" fill="none" stroke-linejoin="round"/><path d="M3227.0,1090.3 L3294.8,957.6 L3362.6,933.6 L3430.4,917.7 L3498.2,909.7 L3566.0,903.3" stroke="#8062c6" stroke-width="3.6" fill="none" stroke-linejoin="round"/><path d="M3227.0,993.7 L3294.8,984.0 L3362.6,968.1 L3430.4,952.2 L3498.2,939.0 L3566.0,924.6" stroke="#56a23f" stroke-width="3.6" fill="none" stroke-linejoin="round"/><path d="M3227.0,996.2 L3294.8,973.4 L3362.6,961.2 L3430.4,949.5 L3498.2,940.0 L3566.0,936.3" stroke="#c3282e" stroke-width="3.6" fill="none" stroke-linejoin="round"/><path d="M3227.0,1006.9 L3294.8,986.6 L3362.6,965.4 L3430.4,984.0 L3498.2,988.4 L3566.0,987.1" stroke="#ea8122" stroke-width="3.6" fill="none" stroke-linejoin="round"/></g><rect x="3227" y="857.6" width="339" height="244.39999999999998" fill="none" stroke="#9a9a9a" stroke-width="1.6"/><text x="3227.0" y="1119.6" font-size="19" text-anchor="middle" fill="#111">0.0</text><text x="3294.8" y="1119.6" font-size="19" text-anchor="middle" fill="#111">0.2</text><text x="3362.6" y="1119.6" font-size="19" text-anchor="middle" fill="#111">0.4</text><text x="3430.4" y="1119.6" font-size="19" text-anchor="middle" fill="#111">0.6</text><text x="3498.2" y="1119.6" font-size="19" text-anchor="middle" fill="#111">0.8</text><text x="3566.0" y="1119.6" font-size="19" text-anchor="middle" fill="#111">1.0</text><text x="3219" y="895.4" font-size="19" text-anchor="end" fill="#111"><tspan>10</tspan><tspan font-size="13.5" dy="-8">0</tspan></text><text x="3219" y="974" font-size="19" text-anchor="end" fill="#111"><tspan>10</tspan><tspan font-size="13.5" dy="-8">−2</tspan></text><text x="3219" y="1052" font-size="19" text-anchor="end" fill="#111"><tspan>10</tspan><tspan font-size="13.5" dy="-8">−4</tspan></text><text x="3398.5" y="1140" font-size="23" font-style="italic" fill="#111" text-anchor="middle">α<tspan font-size="15" dy="-10">*</tspan></text><text x="3793.7" y="854" font-size="20.5" text-anchor="middle" fill="#111" textLength="82" lengthAdjust="spacingAndGlyphs">Variance</text><clipPath id="c22"><rect x="3624.4" y="857.6" width="338.5999999999999" height="244.39999999999998"/></clipPath><path d="M3624.4,857.6V1102M3692.1,857.6V1102M3759.8,857.6V1102M3827.6,857.6V1102M3895.3,857.6V1102M3963.0,857.6V1102M3624.4,924H3963M3624.4,1013H3963" stroke="#b8b8b8" stroke-width="1.6" fill="none"/><g clip-path="url(#c22)"><path d="M3624.4,1028.7 L3692.1,977.4 L3759.8,938.3 L3827.6,908.9 L3895.3,886.9 L3963.0,869.8 L3963.0,896.7 L3895.3,911.4 L3827.6,933.4 L3759.8,962.7 L3692.1,1001.8 L3624.4,1050.7Z" fill="#7f5548" fill-opacity="0.22"/><path d="M3624.4,1033.6 L3692.1,979.8 L3759.8,940.7 L3827.6,913.8 L3895.3,894.3 L3963.0,877.2 L3963.0,926.0 L3895.3,935.8 L3827.6,955.4 L3759.8,979.8 L3692.1,1016.5 L3624.4,1048.2Z" fill="#3f74b8" fill-opacity="0.22"/><path d="M3624.4,1038.5 L3692.1,1018.9 L3759.8,987.1 L3827.6,957.8 L3895.3,928.5 L3963.0,899.1 L3963.0,938.3 L3895.3,960.2 L3827.6,987.1 L3759.8,1011.6 L3692.1,1038.5 L3624.4,1050.7Z" fill="#56a23f" fill-opacity="0.22"/><path d="M3624.4,1033.6 L3692.1,992.0 L3759.8,979.8 L3827.6,955.4 L3895.3,938.3 L3963.0,930.9 L3963.0,992.0 L3895.3,992.0 L3827.6,999.4 L3759.8,1016.5 L3692.1,1016.5 L3624.4,1048.2Z" fill="#ea8122" fill-opacity="0.22"/><path d="M3624.4,1033.6 L3692.1,1033.6 L3759.8,1028.7 L3827.6,1023.8 L3895.3,1021.3 L3963.0,1018.9 L3963.0,1048.2 L3895.3,1050.7 L3827.6,1050.7 L3759.8,1058.0 L3692.1,1062.9 L3624.4,1060.5Z" fill="#c3282e" fill-opacity="0.22"/><path d="M3624.4,1040.9 L3692.1,1038.5 L3759.8,1038.5 L3827.6,1038.5 L3895.3,1038.5 L3963.0,1038.5 L3963.0,1084.9 L3895.3,1084.9 L3827.6,1089.8 L3759.8,1089.8 L3692.1,1084.9 L3624.4,1089.8Z" fill="#8062c6" fill-opacity="0.22"/><path d="M3624.4,1039.9 L3692.1,989.3 L3759.8,949.5 L3827.6,920.4 L3895.3,899.1 L3963.0,883.0" stroke="#7f5548" stroke-width="3.6" fill="none" stroke-linejoin="round"/><path d="M3624.4,1039.9 L3692.1,994.7 L3759.8,954.9 L3827.6,928.2 L3895.3,908.7 L3963.0,892.5" stroke="#3f74b8" stroke-width="3.6" fill="none" stroke-linejoin="round"/><path d="M3624.4,1045.1 L3692.1,1029.2 L3759.8,1000.1 L3827.6,972.5 L3895.3,944.1 L3963.0,917.7" stroke="#56a23f" stroke-width="3.6" fill="none" stroke-linejoin="round"/><path d="M3624.4,1039.9 L3692.1,998.9 L3759.8,998.9 L3827.6,973.4 L3895.3,959.0 L3963.0,955.8" stroke="#ea8122" stroke-width="3.6" fill="none" stroke-linejoin="round"/><path d="M3624.4,1046.8 L3692.1,1047.7 L3759.8,1043.6 L3827.6,1037.2 L3895.3,1035.5 L3963.0,1032.8" stroke="#c3282e" stroke-width="3.6" fill="none" stroke-linejoin="round"/><path d="M3624.4,1042.6 L3692.1,1045.1 L3759.8,1047.7 L3827.6,1050.4 L3895.3,1050.4 L3963.0,1050.4" stroke="#7a7a7a" stroke-width="3.6" fill="none" stroke-linejoin="round"/><path d="M3624.4,1050.4 L3692.1,1050.4 L3759.8,1050.4 L3827.6,1050.4 L3895.3,1050.4 L3963.0,1050.4" stroke="#8062c6" stroke-width="3.6" fill="none" stroke-linejoin="round"/></g><rect x="3624.4" y="857.6" width="338.5999999999999" height="244.39999999999998" fill="none" stroke="#9a9a9a" stroke-width="1.6"/><text x="3624.4" y="1119.6" font-size="19" text-anchor="middle" fill="#111">0.0</text><text x="3692.1" y="1119.6" font-size="19" text-anchor="middle" fill="#111">0.2</text><text x="3759.8" y="1119.6" font-size="19" text-anchor="middle" fill="#111">0.4</text><text x="3827.6" y="1119.6" font-size="19" text-anchor="middle" fill="#111">0.6</text><text x="3895.3" y="1119.6" font-size="19" text-anchor="middle" fill="#111">0.8</text><text x="3963.0" y="1119.6" font-size="19" text-anchor="middle" fill="#111">1.0</text><text x="3616.4" y="931" font-size="19" text-anchor="end" fill="#111"><tspan>10</tspan><tspan font-size="13.5" dy="-8">0</tspan></text><text x="3616.4" y="1020" font-size="19" text-anchor="end" fill="#111"><tspan>10</tspan><tspan font-size="13.5" dy="-8">−1</tspan></text><text x="3795.7" y="1140" font-size="23" font-style="italic" fill="#111" text-anchor="middle">α<tspan font-size="15" dy="-10">*</tspan></text><text x="2997.4" y="1171" font-size="20.5" text-anchor="middle" fill="#111" textLength="51" lengthAdjust="spacingAndGlyphs">MSE</text><clipPath id="c30"><rect x="2830" y="1175" width="334.8000000000002" height="243.29999999999995"/></clipPath><path d="M2830.0,1175V1418.3M2913.7,1175V1418.3M2997.4,1175V1418.3M3081.1,1175V1418.3M3164.8,1175V1418.3M2830,1189.9H3164.8M2830,1251H3164.8M2830,1312H3164.8M2830,1373H3164.8" stroke="#b8b8b8" stroke-width="1.6" fill="none"/><g clip-path="url(#c30)"><path d="M2830.0,1308.8 L2833.7,1284.5 L2838.0,1321.0 L2846.7,1228.5 L2862.8,1228.5 L2871.8,1187.2 L2913.7,1284.5 L3164.8,1192.0 L3164.8,1223.7 L2913.7,1301.5 L2871.8,1213.9 L2862.8,1252.9 L2846.7,1248.0 L2838.0,1340.4 L2833.7,1303.9 L2830.0,1330.7Z" fill="#3f74b8" fill-opacity="0.22"/><path d="M2830.0,1316.1 L2833.7,1291.8 L2838.0,1321.0 L2846.7,1245.6 L2862.8,1255.3 L2871.8,1201.8 L2913.7,1308.8 L3164.8,1204.2 L3164.8,1233.4 L2913.7,1357.5 L2871.8,1231.0 L2862.8,1284.5 L2846.7,1272.3 L2838.0,1345.3 L2833.7,1316.1 L2830.0,1345.3Z" fill="#7f5548" fill-opacity="0.22"/><path d="M2830.0,1325.8 L2833.7,1325.8 L2838.0,1321.0 L2846.7,1311.2 L2862.8,1311.2 L2871.8,1301.5 L2913.7,1286.9 L3164.8,1286.9 L3164.8,1330.7 L2913.7,1355.0 L2871.8,1350.2 L2862.8,1345.3 L2846.7,1335.6 L2838.0,1345.3 L2833.7,1350.2 L2830.0,1345.3Z" fill="#56a23f" fill-opacity="0.22"/><path d="M2830.0,1345.3 L2833.7,1357.5 L2838.0,1381.8 L2846.7,1357.5 L2862.8,1308.8 L2871.8,1308.8 L2913.7,1286.9 L3164.8,1286.9 L3164.8,1333.1 L2913.7,1333.1 L2871.8,1345.3 L2862.8,1345.3 L2846.7,1386.7 L2838.0,1406.1 L2833.7,1389.1 L2830.0,1369.6Z" fill="#ea8122" fill-opacity="0.22"/><path d="M2830.0,1352.6 L2833.7,1367.2 L2838.0,1376.9 L2846.7,1364.8 L2862.8,1369.6 L2871.8,1350.2 L2913.7,1347.7 L3164.8,1340.4 L3164.8,1364.8 L2913.7,1372.1 L2871.8,1374.5 L2862.8,1394.0 L2846.7,1389.1 L2838.0,1401.3 L2833.7,1391.5 L2830.0,1376.9Z" fill="#c3282e" fill-opacity="0.22"/><path d="M2830.0,1342.9 L2833.7,1335.6 L2838.0,1340.4 L2846.7,1340.4 L2862.8,1342.9 L2871.8,1330.7 L2913.7,1323.4 L3164.8,1330.7 L3164.8,1342.9 L2913.7,1338.0 L2871.8,1342.9 L2862.8,1355.0 L2846.7,1352.6 L2838.0,1352.6 L2833.7,1347.7 L2830.0,1355.0Z" fill="#8062c6" fill-opacity="0.22"/><path d="M2830.0,1320.0 L2833.7,1293.5 L2838.0,1330.7 L2846.7,1240.4 L2862.8,1242.9 L2871.8,1202.0 L2913.7,1293.5 L3164.8,1207.4" stroke="#3f74b8" stroke-width="3.6" fill="none" stroke-linejoin="round"/><path d="M2830.0,1330.7 L2833.7,1304.2 L2838.0,1330.7 L2846.7,1258.9 L2862.8,1269.6 L2871.8,1216.4 L2913.7,1333.4 L3164.8,1219.0" stroke="#7f5548" stroke-width="3.6" fill="none" stroke-linejoin="round"/><path d="M2830.0,1354.6 L2833.7,1373.0 L2838.0,1394.5 L2846.7,1370.4 L2862.8,1325.4 L2871.8,1322.7 L2913.7,1297.6 L3164.8,1308.3" stroke="#ea8122" stroke-width="3.6" fill="none" stroke-linejoin="round"/><path d="M2830.0,1336.1 L2833.7,1338.5 L2838.0,1330.7 L2846.7,1322.7 L2862.8,1328.0 L2871.8,1321.0 L2913.7,1312.0 L3164.8,1302.5" stroke="#56a23f" stroke-width="3.6" fill="none" stroke-linejoin="round"/><path d="M2830.0,1343.9 L2833.7,1338.5 L2838.0,1346.5 L2846.7,1349.2 L2862.8,1351.9 L2871.8,1337.0 L2913.7,1330.7 L3164.8,1340.2" stroke="#7a7a7a" stroke-width="3.6" fill="none" stroke-linejoin="round"/><path d="M2830.0,1349.2 L2833.7,1341.2 L2838.0,1346.5 L2846.7,1346.5 L2862.8,1349.2 L2871.8,1337.0 L2913.7,1330.7 L3164.8,1337.0" stroke="#8062c6" stroke-width="3.6" fill="none" stroke-linejoin="round"/><path d="M2830.0,1365.3 L2833.7,1378.4 L2838.0,1389.1 L2846.7,1375.7 L2862.8,1381.1 L2871.8,1361.4 L2913.7,1360.9 L3164.8,1351.9" stroke="#c3282e" stroke-width="3.6" fill="none" stroke-linejoin="round"/></g><rect x="2830" y="1175" width="334.8000000000002" height="243.29999999999995" fill="none" stroke="#9a9a9a" stroke-width="1.6"/><text x="2830.0" y="1437" font-size="19" text-anchor="middle" fill="#111">0</text><text x="2913.7" y="1437" font-size="19" text-anchor="middle" fill="#111">500</text><text x="2997.4" y="1437" font-size="19" text-anchor="middle" fill="#111">1000</text><text x="3081.1" y="1437" font-size="19" text-anchor="middle" fill="#111">1500</text><text x="3164.8" y="1437" font-size="19" text-anchor="middle" fill="#111">2000</text><text x="2822" y="1196.9" font-size="19" text-anchor="end" fill="#111"><tspan>10</tspan><tspan font-size="13.5" dy="-8">2</tspan></text><text x="2822" y="1258" font-size="19" text-anchor="end" fill="#111"><tspan>10</tspan><tspan font-size="13.5" dy="-8">1</tspan></text><text x="2822" y="1319" font-size="19" text-anchor="end" fill="#111"><tspan>10</tspan><tspan font-size="13.5" dy="-8">0</tspan></text><text x="2822" y="1380" font-size="19" text-anchor="end" fill="#111"><tspan>10</tspan><tspan font-size="13.5" dy="-8">−1</tspan></text><text x="2997.4" y="1458" font-size="21" text-anchor="middle" fill="#111" textLength="174" lengthAdjust="spacingAndGlyphs">Number of Actions</text><text x="3392.2" y="1171" font-size="20.5" text-anchor="middle" fill="#111" textLength="128" lengthAdjust="spacingAndGlyphs">Squared Bias</text><clipPath id="c31"><rect x="3225.4" y="1175" width="333.5999999999999" height="243.29999999999995"/></clipPath><path d="M3225.4,1175V1418.3M3308.8,1175V1418.3M3392.2,1175V1418.3M3475.6,1175V1418.3M3559.0,1175V1418.3M3225.4,1192.5H3559M3225.4,1277.5H3559M3225.4,1362.5H3559" stroke="#b8b8b8" stroke-width="1.6" fill="none"/><g clip-path="url(#c31)"><path d="M3225.4,1308.8 L3229.1,1296.7 L3233.4,1296.7 L3242.1,1296.7 L3258.1,1284.5 L3267.1,1284.5 L3308.8,1272.3 L3559.0,1248.0 L3559.0,1345.3 L3308.8,1345.3 L3267.1,1369.6 L3258.1,1369.6 L3242.1,1381.8 L3233.4,1381.8 L3229.1,1381.8 L3225.4,1394.0Z" fill="#56a23f" fill-opacity="0.22"/><path d="M3225.4,1308.8 L3229.1,1296.7 L3233.4,1296.7 L3242.1,1369.6 L3258.1,1284.5 L3267.1,1284.5 L3308.8,1296.7 L3559.0,1308.8 L3559.0,1350.2 L3308.8,1350.2 L3267.1,1321.0 L3258.1,1321.0 L3242.1,1413.4 L3233.4,1345.3 L3229.1,1345.3 L3225.4,1357.5Z" fill="#ea8122" fill-opacity="0.22"/><path d="M3225.4,1284.5 L3229.1,1260.2 L3233.4,1272.3 L3242.1,1260.2 L3258.1,1248.0 L3267.1,1223.7 L3308.8,1235.8 L3559.0,1187.2 L3559.0,1260.2 L3308.8,1267.5 L3267.1,1248.0 L3258.1,1284.5 L3242.1,1296.7 L3233.4,1321.0 L3229.1,1296.7 L3225.4,1413.4Z" fill="#7f5548" fill-opacity="0.22"/><path d="M3225.4,1260.2 L3229.1,1248.0 L3233.4,1248.0 L3242.1,1248.0 L3258.1,1248.0 L3267.1,1211.5 L3308.8,1248.0 L3559.0,1187.2 L3559.0,1321.0 L3308.8,1296.7 L3267.1,1260.2 L3258.1,1296.7 L3242.1,1284.5 L3233.4,1296.7 L3229.1,1296.7 L3225.4,1321.0Z" fill="#3f74b8" fill-opacity="0.22"/><path d="M3225.4,1260.2 L3229.1,1248.0 L3233.4,1248.0 L3242.1,1248.0 L3258.1,1248.0 L3267.1,1248.0 L3308.8,1235.8 L3559.0,1199.3 L3559.0,1308.8 L3308.8,1284.5 L3267.1,1284.5 L3258.1,1284.5 L3242.1,1284.5 L3233.4,1296.7 L3229.1,1296.7 L3225.4,1308.8Z" fill="#7a7a7a" fill-opacity="0.22"/><path d="M3225.4,1316.1 L3229.1,1294.2 L3233.4,1306.4 L3242.1,1389.1 L3258.1,1369.6 L3267.1,1308.8 L3308.8,1257.7 L3559.0,1262.6 L3559.0,1291.8 L3308.8,1286.9 L3267.1,1338.0 L3258.1,1398.8 L3242.1,1415.9 L3233.4,1335.6 L3229.1,1323.4 L3225.4,1345.3Z" fill="#c3282e" fill-opacity="0.22"/><path d="M3225.4,1293.5 L3229.1,1264.3 L3233.4,1285.5 L3242.1,1264.3 L3258.1,1277.4 L3267.1,1229.7 L3308.8,1290.8 L3559.0,1253.6" stroke="#3f74b8" stroke-width="3.6" fill="none" stroke-linejoin="round"/><path d="M3225.4,1410.3 L3229.1,1277.4 L3233.4,1298.8 L3242.1,1274.8 L3258.1,1264.3 L3267.1,1235.1 L3308.8,1250.9 L3559.0,1207.8" stroke="#7f5548" stroke-width="3.6" fill="none" stroke-linejoin="round"/><path d="M3225.4,1274.8 L3229.1,1262.6 L3233.4,1258.9 L3242.1,1261.6 L3258.1,1258.9 L3267.1,1256.3 L3308.8,1248.2 L3559.0,1258.9" stroke="#8062c6" stroke-width="3.6" fill="none" stroke-linejoin="round"/><path d="M3225.4,1280.1 L3229.1,1264.3 L3233.4,1258.9 L3242.1,1261.6 L3258.1,1258.9 L3267.1,1256.3 L3308.8,1248.2 L3559.0,1260.2" stroke="#7a7a7a" stroke-width="3.6" fill="none" stroke-linejoin="round"/><path d="M3225.4,1383.8 L3229.1,1290.8 L3233.4,1369.6 L3242.1,1293.5 L3258.1,1290.8 L3267.1,1314.7 L3308.8,1343.9 L3559.0,1279.1" stroke="#56a23f" stroke-width="3.6" fill="none" stroke-linejoin="round"/><path d="M3225.4,1335.6 L3229.1,1321.0 L3233.4,1321.0 L3242.1,1404.9 L3258.1,1298.8 L3267.1,1298.8 L3308.8,1335.6 L3559.0,1327.1" stroke="#ea8122" stroke-width="3.6" fill="none" stroke-linejoin="round"/><path d="M3225.4,1330.7 L3229.1,1308.8 L3233.4,1321.0 L3242.1,1404.9 L3258.1,1383.8 L3267.1,1322.7 L3308.8,1273.3 L3559.0,1277.4" stroke="#c3282e" stroke-width="3.6" fill="none" stroke-linejoin="round"/></g><rect x="3225.4" y="1175" width="333.5999999999999" height="243.29999999999995" fill="none" stroke="#9a9a9a" stroke-width="1.6"/><text x="3225.4" y="1437" font-size="19" text-anchor="middle" fill="#111">0</text><text x="3308.8" y="1437" font-size="19" text-anchor="middle" fill="#111">500</text><text x="3392.2" y="1437" font-size="19" text-anchor="middle" fill="#111">1000</text><text x="3475.6" y="1437" font-size="19" text-anchor="middle" fill="#111">1500</text><text x="3559.0" y="1437" font-size="19" text-anchor="middle" fill="#111">2000</text><text x="3217.4" y="1199.5" font-size="19" text-anchor="end" fill="#111"><tspan>10</tspan><tspan font-size="13.5" dy="-8">1</tspan></text><text x="3217.4" y="1284.5" font-size="19" text-anchor="end" fill="#111"><tspan>10</tspan><tspan font-size="13.5" dy="-8">−1</tspan></text><text x="3217.4" y="1369.5" font-size="19" text-anchor="end" fill="#111"><tspan>10</tspan><tspan font-size="13.5" dy="-8">−3</tspan></text><text x="3392.2" y="1458" font-size="21" text-anchor="middle" fill="#111" textLength="174" lengthAdjust="spacingAndGlyphs">Number of Actions</text><text x="3786.95" y="1171" font-size="20.5" text-anchor="middle" fill="#111" textLength="82" lengthAdjust="spacingAndGlyphs">Variance</text><clipPath id="c32"><rect x="3620" y="1175" width="333.9000000000001" height="243.29999999999995"/></clipPath><path d="M3620.0,1175V1418.3M3703.5,1175V1418.3M3786.9,1175V1418.3M3870.4,1175V1418.3M3953.9,1175V1418.3M3620,1188H3953.9M3620,1268H3953.9M3620,1347.7H3953.9" stroke="#b8b8b8" stroke-width="1.6" fill="none"/><g clip-path="url(#c32)"><path d="M3620.0,1248.0 L3623.7,1248.0 L3628.0,1248.0 L3636.7,1211.5 L3652.7,1211.5 L3661.7,1187.2 L3703.5,1248.0 L3953.9,1194.5 L3953.9,1211.5 L3703.5,1272.3 L3661.7,1211.5 L3652.7,1235.8 L3636.7,1235.8 L3628.0,1277.2 L3623.7,1272.3 L3620.0,1284.5Z" fill="#3f74b8" fill-opacity="0.22"/><path d="M3620.0,1248.0 L3623.7,1248.0 L3628.0,1260.2 L3636.7,1223.7 L3652.7,1228.5 L3661.7,1199.3 L3703.5,1272.3 L3953.9,1204.2 L3953.9,1248.0 L3703.5,1406.1 L3661.7,1223.7 L3652.7,1267.5 L3636.7,1252.9 L3628.0,1284.5 L3623.7,1277.2 L3620.0,1284.5Z" fill="#7f5548" fill-opacity="0.22"/><path d="M3620.0,1272.3 L3623.7,1272.3 L3628.0,1272.3 L3636.7,1272.3 L3652.7,1272.3 L3661.7,1267.5 L3703.5,1255.3 L3953.9,1248.0 L3953.9,1284.5 L3703.5,1296.7 L3661.7,1284.5 L3652.7,1291.8 L3636.7,1291.8 L3628.0,1296.7 L3623.7,1296.7 L3620.0,1296.7Z" fill="#56a23f" fill-opacity="0.22"/><path d="M3620.0,1291.8 L3623.7,1294.2 L3628.0,1316.1 L3636.7,1289.4 L3652.7,1282.1 L3661.7,1267.5 L3703.5,1248.0 L3953.9,1255.3 L3953.9,1274.8 L3703.5,1269.9 L3661.7,1286.9 L3652.7,1301.5 L3636.7,1308.8 L3628.0,1335.6 L3623.7,1313.7 L3620.0,1311.2Z" fill="#ea8122" fill-opacity="0.22"/><path d="M3620.0,1294.2 L3623.7,1303.9 L3628.0,1313.7 L3636.7,1294.2 L3652.7,1301.5 L3661.7,1291.8 L3703.5,1316.1 L3953.9,1291.8 L3953.9,1311.2 L3703.5,1335.6 L3661.7,1311.2 L3652.7,1321.0 L3636.7,1316.1 L3628.0,1333.1 L3623.7,1325.8 L3620.0,1316.1Z" fill="#c3282e" fill-opacity="0.22"/><path d="M3620.0,1299.1 L3623.7,1303.9 L3628.0,1313.7 L3636.7,1299.1 L3652.7,1303.9 L3661.7,1299.1 L3703.5,1321.0 L3953.9,1303.9 L3953.9,1325.8 L3703.5,1340.4 L3661.7,1318.5 L3652.7,1325.8 L3636.7,1321.0 L3628.0,1333.1 L3623.7,1325.8 L3620.0,1321.0Z" fill="#8062c6" fill-opacity="0.22"/><path d="M3620.0,1269.6 L3623.7,1258.9 L3628.0,1264.3 L3636.7,1221.7 L3652.7,1223.7 L3661.7,1197.4 L3703.5,1256.7 L3953.9,1200.5" stroke="#3f74b8" stroke-width="3.6" fill="none" stroke-linejoin="round"/><path d="M3620.0,1264.3 L3623.7,1261.6 L3628.0,1269.6 L3636.7,1232.4 L3652.7,1242.9 L3661.7,1205.9 L3703.5,1312.0 L3953.9,1209.5" stroke="#7f5548" stroke-width="3.6" fill="none" stroke-linejoin="round"/><path d="M3620.0,1282.8 L3623.7,1280.1 L3628.0,1277.4 L3636.7,1277.4 L3652.7,1280.1 L3661.7,1274.8 L3703.5,1269.6 L3953.9,1261.6" stroke="#56a23f" stroke-width="3.6" fill="none" stroke-linejoin="round"/><path d="M3620.0,1301.5 L3623.7,1304.2 L3628.0,1325.4 L3636.7,1298.8 L3652.7,1290.8 L3661.7,1277.4 L3703.5,1258.9 L3953.9,1265.8" stroke="#ea8122" stroke-width="3.6" fill="none" stroke-linejoin="round"/><path d="M3620.0,1304.2 L3623.7,1314.7 L3628.0,1322.7 L3636.7,1304.2 L3652.7,1312.0 L3661.7,1301.5 L3703.5,1325.4 L3953.9,1301.5" stroke="#c3282e" stroke-width="3.6" fill="none" stroke-linejoin="round"/><path d="M3620.0,1309.3 L3623.7,1314.7 L3628.0,1322.7 L3636.7,1309.3 L3652.7,1314.7 L3661.7,1308.3 L3703.5,1330.7 L3953.9,1314.7" stroke="#8062c6" stroke-width="3.6" fill="none" stroke-linejoin="round"/><path d="M3620.0,1309.3 L3623.7,1314.7 L3628.0,1322.7 L3636.7,1309.3 L3652.7,1314.7 L3661.7,1308.3 L3703.5,1330.7 L3953.9,1316.1" stroke="#7a7a7a" stroke-width="3.6" fill="none" stroke-linejoin="round"/></g><rect x="3620" y="1175" width="333.9000000000001" height="243.29999999999995" fill="none" stroke="#9a9a9a" stroke-width="1.6"/><text x="3620.0" y="1437" font-size="19" text-anchor="middle" fill="#111">0</text><text x="3703.5" y="1437" font-size="19" text-anchor="middle" fill="#111">500</text><text x="3786.9" y="1437" font-size="19" text-anchor="middle" fill="#111">1000</text><text x="3870.4" y="1437" font-size="19" text-anchor="middle" fill="#111">1500</text><text x="3953.9" y="1437" font-size="19" text-anchor="middle" fill="#111">2000</text><text x="3612" y="1195" font-size="19" text-anchor="end" fill="#111"><tspan>10</tspan><tspan font-size="13.5" dy="-8">2</tspan></text><text x="3612" y="1275" font-size="19" text-anchor="end" fill="#111"><tspan>10</tspan><tspan font-size="13.5" dy="-8">0</tspan></text><text x="3612" y="1354.7" font-size="19" text-anchor="end" fill="#111"><tspan>10</tspan><tspan font-size="13.5" dy="-8">−2</tspan></text><text x="3786.95" y="1458" font-size="21" text-anchor="middle" fill="#111" textLength="174" lengthAdjust="spacingAndGlyphs">Number of Actions</text><text x="2994.75" y="1487.6" font-size="20.5" text-anchor="middle" fill="#111" textLength="51" lengthAdjust="spacingAndGlyphs">MSE</text><clipPath id="c40"><rect x="2830" y="1492" width="329.5" height="243"/></clipPath><path d="M2830.0,1492V1735M2895.9,1492V1735M2961.8,1492V1735M3027.7,1492V1735M3093.6,1492V1735M3159.5,1492V1735M2830,1575.8H3159.5M2830,1676H3159.5" stroke="#b8b8b8" stroke-width="1.6" fill="none"/><g clip-path="url(#c40)"><path d="M2833.3,1501.7 L2862.9,1540.6 L2994.8,1535.7 L3159.5,1540.6 L3159.5,1572.2 L2994.8,1572.2 L2862.9,1577.0 L2833.3,1552.8Z" fill="#3f74b8" fill-opacity="0.22"/><path d="M2833.3,1528.5 L2862.9,1569.8 L2994.8,1540.6 L3159.5,1550.3 L3159.5,1581.9 L2994.8,1584.3 L2862.9,1606.2 L2833.3,1589.2Z" fill="#56a23f" fill-opacity="0.22"/><path d="M2833.3,1603.8 L2862.9,1611.1 L2994.8,1630.5 L3159.5,1618.4 L3159.5,1642.7 L2994.8,1659.7 L2862.9,1632.9 L2833.3,1620.8Z" fill="#8062c6" fill-opacity="0.22"/><path d="M2833.3,1642.7 L2862.9,1650.0 L2994.8,1681.5 L3159.5,1601.3 L3159.5,1637.8 L2994.8,1715.6 L2862.9,1691.3 L2833.3,1676.7Z" fill="#ea8122" fill-opacity="0.22"/><path d="M2833.3,1637.8 L2862.9,1652.4 L2994.8,1696.1 L3159.5,1625.7 L3159.5,1650.0 L2994.8,1725.3 L2862.9,1674.2 L2833.3,1662.1Z" fill="#c3282e" fill-opacity="0.22"/><path d="M2833.3,1552.8 L2862.9,1613.5 L2994.8,1637.8 L3159.5,1623.2 L3159.5,1637.8 L2994.8,1652.4 L2862.9,1628.1 L2833.3,1569.8Z" fill="#7a7a7a" fill-opacity="0.22"/><path d="M2833.3,1523.8 L2862.9,1565.6 L2994.8,1555.7 L3159.5,1557.4" stroke="#3f74b8" stroke-width="3.6" fill="none" stroke-linejoin="round"/><path d="M2833.3,1542.3 L2862.9,1582.2 L2994.8,1561.0 L3159.5,1566.4" stroke="#7f5548" stroke-width="3.6" fill="none" stroke-linejoin="round"/><path d="M2833.3,1549.3 L2862.9,1583.4 L2994.8,1561.0 L3159.5,1567.3" stroke="#56a23f" stroke-width="3.6" fill="none" stroke-linejoin="round"/><path d="M2833.3,1611.3 L2862.9,1619.3 L2994.8,1643.1 L3159.5,1630.0" stroke="#8062c6" stroke-width="3.6" fill="none" stroke-linejoin="round"/><path d="M2833.3,1611.3 L2862.9,1619.3 L2994.8,1643.1 L3159.5,1631.0" stroke="#d474c8" stroke-width="3.6" fill="none" stroke-linejoin="round"/><path d="M2833.3,1561.0 L2862.9,1622.0 L2994.8,1644.4 L3159.5,1630.0" stroke="#7a7a7a" stroke-width="3.6" fill="none" stroke-linejoin="round"/><path d="M2833.3,1660.6 L2862.9,1672.3 L2994.8,1695.1 L3159.5,1617.6" stroke="#ea8122" stroke-width="3.6" fill="none" stroke-linejoin="round"/><path d="M2833.3,1649.5 L2862.9,1662.8 L2994.8,1709.5 L3159.5,1637.8" stroke="#c3282e" stroke-width="3.6" fill="none" stroke-linejoin="round"/></g><rect x="2830" y="1492" width="329.5" height="243" fill="none" stroke="#9a9a9a" stroke-width="1.6"/><text x="2830.0" y="1752" font-size="19" text-anchor="middle" fill="#111">0</text><text x="2895.9" y="1752" font-size="19" text-anchor="middle" fill="#111">2000</text><text x="2961.8" y="1752" font-size="19" text-anchor="middle" fill="#111">4000</text><text x="3027.7" y="1752" font-size="19" text-anchor="middle" fill="#111">6000</text><text x="3093.6" y="1752" font-size="19" text-anchor="middle" fill="#111">8000</text><text x="3159.5" y="1752" font-size="19" text-anchor="middle" fill="#111">10000</text><text x="2822" y="1582.8" font-size="19" text-anchor="end" fill="#111"><tspan>10</tspan><tspan font-size="13.5" dy="-8">0</tspan></text><text x="2822" y="1683" font-size="19" text-anchor="end" fill="#111"><tspan>10</tspan><tspan font-size="13.5" dy="-8">−1</tspan></text><text x="2994.75" y="1773.5" font-size="21" text-anchor="middle" fill="#111" textLength="194" lengthAdjust="spacingAndGlyphs">Context dimension <tspan font-style="italic">d</tspan></text><text x="3389.55" y="1487.6" font-size="20.5" text-anchor="middle" fill="#111" textLength="128" lengthAdjust="spacingAndGlyphs">Squared Bias</text><clipPath id="c41"><rect x="3225.4" y="1492" width="328.2999999999997" height="243"/></clipPath><path d="M3225.4,1492V1735M3291.1,1492V1735M3356.7,1492V1735M3422.4,1492V1735M3488.0,1492V1735M3553.7,1492V1735M3225.4,1530H3553.7M3225.4,1588.6H3553.7M3225.4,1648.6H3553.7M3225.4,1707H3553.7" stroke="#b8b8b8" stroke-width="1.6" fill="none"/><g clip-path="url(#c41)"><path d="M3228.7,1504.2 L3258.2,1540.6 L3389.6,1521.2 L3553.7,1545.5 L3553.7,1625.7 L3389.6,1557.6 L3258.2,1686.4 L3228.7,1589.2Z" fill="#3f74b8" fill-opacity="0.22"/><path d="M3228.7,1504.2 L3258.2,1552.8 L3389.6,1521.2 L3553.7,1560.0 L3553.7,1662.1 L3389.6,1564.9 L3258.2,1637.8 L3228.7,1589.2Z" fill="#56a23f" fill-opacity="0.22"/><path d="M3228.7,1547.9 L3258.2,1552.8 L3389.6,1569.8 L3553.7,1560.0 L3553.7,1577.0 L3389.6,1586.8 L3258.2,1567.3 L3228.7,1562.5Z" fill="#8062c6" fill-opacity="0.22"/><path d="M3228.7,1577.0 L3258.2,1577.0 L3389.6,1625.7 L3553.7,1564.9 L3553.7,1674.2 L3389.6,1722.8 L3258.2,1613.5 L3228.7,1613.5Z" fill="#ea8122" fill-opacity="0.22"/><path d="M3228.7,1577.0 L3258.2,1581.9 L3389.6,1637.8 L3553.7,1564.9 L3553.7,1637.8 L3389.6,1698.5 L3258.2,1601.3 L3228.7,1601.3Z" fill="#c3282e" fill-opacity="0.22"/><path d="M3228.7,1555.7 L3258.2,1561.0 L3389.6,1579.5 L3553.7,1569.0" stroke="#8062c6" stroke-width="3.6" fill="none" stroke-linejoin="round"/><path d="M3228.7,1537.2 L3258.2,1558.3 L3389.6,1579.5 L3553.7,1566.4" stroke="#7f5548" stroke-width="3.6" fill="none" stroke-linejoin="round"/><path d="M3228.7,1537.2 L3258.2,1558.3 L3389.6,1579.5 L3553.7,1566.4" stroke="#7a7a7a" stroke-width="3.6" fill="none" stroke-linejoin="round"/><path d="M3228.7,1518.5 L3258.2,1600.9 L3389.6,1537.2 L3553.7,1590.2" stroke="#3f74b8" stroke-width="3.6" fill="none" stroke-linejoin="round"/><path d="M3228.7,1529.2 L3258.2,1582.2 L3389.6,1537.2 L3553.7,1610.3" stroke="#56a23f" stroke-width="3.6" fill="none" stroke-linejoin="round"/><path d="M3228.7,1596.5 L3258.2,1600.9 L3389.6,1659.2 L3553.7,1574.1" stroke="#ea8122" stroke-width="3.6" fill="none" stroke-linejoin="round"/><path d="M3228.7,1585.8 L3258.2,1588.5 L3389.6,1660.9 L3553.7,1571.7" stroke="#c3282e" stroke-width="3.6" fill="none" stroke-linejoin="round"/></g><rect x="3225.4" y="1492" width="328.2999999999997" height="243" fill="none" stroke="#9a9a9a" stroke-width="1.6"/><text x="3225.4" y="1752" font-size="19" text-anchor="middle" fill="#111">0</text><text x="3291.1" y="1752" font-size="19" text-anchor="middle" fill="#111">2000</text><text x="3356.7" y="1752" font-size="19" text-anchor="middle" fill="#111">4000</text><text x="3422.4" y="1752" font-size="19" text-anchor="middle" fill="#111">6000</text><text x="3488.0" y="1752" font-size="19" text-anchor="middle" fill="#111">8000</text><text x="3553.7" y="1752" font-size="19" text-anchor="middle" fill="#111">10000</text><text x="3217.4" y="1537" font-size="19" text-anchor="end" fill="#111"><tspan>10</tspan><tspan font-size="13.5" dy="-8">0</tspan></text><text x="3217.4" y="1595.6" font-size="19" text-anchor="end" fill="#111"><tspan>10</tspan><tspan font-size="13.5" dy="-8">−1</tspan></text><text x="3217.4" y="1655.6" font-size="19" text-anchor="end" fill="#111"><tspan>10</tspan><tspan font-size="13.5" dy="-8">−2</tspan></text><text x="3217.4" y="1714" font-size="19" text-anchor="end" fill="#111"><tspan>10</tspan><tspan font-size="13.5" dy="-8">−3</tspan></text><text x="3389.55" y="1773.5" font-size="21" text-anchor="middle" fill="#111" textLength="194" lengthAdjust="spacingAndGlyphs">Context dimension <tspan font-style="italic">d</tspan></text><text x="3784.25" y="1487.6" font-size="20.5" text-anchor="middle" fill="#111" textLength="82" lengthAdjust="spacingAndGlyphs">Variance</text><clipPath id="c42"><rect x="3620" y="1492" width="328.5" height="243"/></clipPath><path d="M3620.0,1492V1735M3685.7,1492V1735M3751.4,1492V1735M3817.1,1492V1735M3882.8,1492V1735M3948.5,1492V1735M3620,1539.7H3948.5M3620,1628.4H3948.5M3620,1717.7H3948.5" stroke="#b8b8b8" stroke-width="1.6" fill="none"/><g clip-path="url(#c42)"><path d="M3623.3,1506.6 L3652.8,1521.2 L3784.2,1535.7 L3948.5,1511.4 L3948.5,1540.6 L3784.2,1560.0 L3652.8,1547.9 L3623.3,1533.3Z" fill="#3f74b8" fill-opacity="0.22"/><path d="M3623.3,1528.5 L3652.8,1540.6 L3784.2,1540.6 L3948.5,1521.2 L3948.5,1564.9 L3784.2,1577.0 L3652.8,1589.2 L3623.3,1589.2Z" fill="#56a23f" fill-opacity="0.22"/><path d="M3623.3,1552.8 L3652.8,1647.5 L3784.2,1632.9 L3948.5,1637.8 L3948.5,1671.8 L3784.2,1647.5 L3652.8,1671.8 L3623.3,1589.2Z" fill="#7a7a7a" fill-opacity="0.22"/><path d="M3623.3,1632.9 L3652.8,1657.2 L3784.2,1632.9 L3948.5,1569.8 L3948.5,1628.1 L3784.2,1667.0 L3652.8,1681.5 L3623.3,1662.1Z" fill="#ea8122" fill-opacity="0.22"/><path d="M3623.3,1632.9 L3652.8,1647.5 L3784.2,1637.8 L3948.5,1637.8 L3948.5,1698.5 L3784.2,1698.5 L3652.8,1722.8 L3623.3,1674.2Z" fill="#8062c6" fill-opacity="0.22"/><path d="M3623.3,1632.9 L3652.8,1662.1 L3784.2,1650.0 L3948.5,1645.1 L3948.5,1679.1 L3784.2,1679.1 L3652.8,1701.0 L3623.3,1662.1Z" fill="#c3282e" fill-opacity="0.22"/><path d="M3623.3,1519.7 L3652.8,1534.5 L3784.2,1547.6 L3948.5,1528.0" stroke="#3f74b8" stroke-width="3.6" fill="none" stroke-linejoin="round"/><path d="M3623.3,1538.7 L3652.8,1554.7 L3784.2,1556.6 L3948.5,1537.2" stroke="#7f5548" stroke-width="3.6" fill="none" stroke-linejoin="round"/><path d="M3623.3,1546.2 L3652.8,1555.7 L3784.2,1556.6 L3948.5,1537.2" stroke="#56a23f" stroke-width="3.6" fill="none" stroke-linejoin="round"/><path d="M3623.3,1558.3 L3652.8,1664.5 L3784.2,1640.2 L3948.5,1664.5" stroke="#7a7a7a" stroke-width="3.6" fill="none" stroke-linejoin="round"/><path d="M3623.3,1648.5 L3652.8,1661.9 L3784.2,1640.2 L3948.5,1664.5" stroke="#8062c6" stroke-width="3.6" fill="none" stroke-linejoin="round"/><path d="M3623.3,1646.1 L3652.8,1668.2 L3784.2,1648.5 L3948.5,1596.5" stroke="#ea8122" stroke-width="3.6" fill="none" stroke-linejoin="round"/><path d="M3623.3,1646.1 L3652.8,1678.9 L3784.2,1664.5 L3948.5,1659.7" stroke="#c3282e" stroke-width="3.6" fill="none" stroke-linejoin="round"/></g><rect x="3620" y="1492" width="328.5" height="243" fill="none" stroke="#9a9a9a" stroke-width="1.6"/><text x="3620.0" y="1752" font-size="19" text-anchor="middle" fill="#111">0</text><text x="3685.7" y="1752" font-size="19" text-anchor="middle" fill="#111">2000</text><text x="3751.4" y="1752" font-size="19" text-anchor="middle" fill="#111">4000</text><text x="3817.1" y="1752" font-size="19" text-anchor="middle" fill="#111">6000</text><text x="3882.8" y="1752" font-size="19" text-anchor="middle" fill="#111">8000</text><text x="3948.5" y="1752" font-size="19" text-anchor="middle" fill="#111">10000</text><text x="3612" y="1546.7" font-size="19" text-anchor="end" fill="#111"><tspan>10</tspan><tspan font-size="13.5" dy="-8">0</tspan></text><text x="3612" y="1635.4" font-size="19" text-anchor="end" fill="#111"><tspan>10</tspan><tspan font-size="13.5" dy="-8">−1</tspan></text><text x="3612" y="1724.7" font-size="19" text-anchor="end" fill="#111"><tspan>10</tspan><tspan font-size="13.5" dy="-8">−2</tspan></text><text x="3784.25" y="1773.5" font-size="21" text-anchor="middle" fill="#111" textLength="194" lengthAdjust="spacingAndGlyphs">Context dimension <tspan font-style="italic">d</tspan></text></svg>
<div style="position:absolute;left:2782px;top:2059px;width:1262px;height:3px;background:#000;"></div>
<div style="position:absolute;left:2782px;top:2101px;width:1262px;height:2px;background:#000;"></div>
<div style="position:absolute;left:2782px;top:2244px;width:1262px;height:3px;background:#000;"></div>
<div style="position:absolute;left:2852.6px;top:2412px;width:1049px;height:3px;background:#000;"></div>
<div style="position:absolute;left:2852.6px;top:2469px;width:1049px;height:2px;background:#000;"></div>
<div style="position:absolute;left:2852.6px;top:2710px;width:1049px;height:3px;background:#000;"></div>
<div class="L s" style="left:93.0px;top:382.7px;font-size:42px;color:#ffffff;transform:scaleX(0.9402);">Motivation and Problem Setup</div>
<div class="L s" style="left:92.5px;top:1180.7px;font-size:42px;color:#ffffff;transform:scaleX(0.9335);">Background: Off-Policy Evaluation</div>
<div class="L s" style="left:1437.0px;top:1180.7px;font-size:42px;color:#ffffff;transform:scaleX(0.9395);">Marginal Ratio Estimator</div>
<div class="L s" style="left:1437.0px;top:2185.3px;font-size:42px;color:#ffffff;transform:scaleX(0.9360);">Theoretical Analysis</div>
<div class="L s" style="left:2782.4px;top:382.5px;font-size:42px;color:#ffffff;transform:scaleX(0.9263);">Experimental Results</div>
<div class="L s" style="left:66.0px;top:224.0px;font-size:26px;color:#ffffff;letter-spacing:2px;transform:scaleX(0.8537);">UNIVERSITY OF</div>
<div class="L mr" style="left:63.5px;top:251.0px;font-size:57px;color:#ffffff;">OXFORD</div>
<div class="L s" style="left:1166.0px;top:89.0px;font-size:61px;color:#ffffff;transform:scaleX(0.9274);">Marginal Density Ratio for Off-Policy Evaluation in Contextual Bandits</div>
<div class="L s" style="left:1368.0px;top:183.8px;font-size:41px;color:#ffffff;transform:scaleX(0.9415);">Muhammad Faaiz Taufiq<sup>†</sup>, Arnaud Doucet<sup>†</sup>, Rob Cornish<sup>†</sup>, Jean-François Ton<sup>§</sup></div>
<div class="L s" style="left:1559.0px;top:237.6px;font-size:30.5px;color:#ffffff;transform:scaleX(0.9548);">†&nbsp;Department&nbsp; of&nbsp; Statistics,&nbsp; University&nbsp; of&nbsp; Oxford&nbsp;&nbsp;&nbsp;&nbsp; §&nbsp;Bytedance&nbsp; AI&nbsp; Lab</div>
<div class="L s" style="left:3539.0px;top:168.5px;font-size:31px;color:#3a5bb8;transform:scaleX(0.9298);">ByteDance</div>
<div class="L mi" style="left:247.6px;top:658.7px;font-size:56px;transform:scaleX(1.2371);">X</div>
<div class="L s" style="left:315.6px;top:671.6px;font-size:25px;transform:scaleX(0.9735);">User</div>
<div class="L mi" style="left:95.8px;top:873.0px;font-size:56px;transform:scaleX(1.1034);">A</div>
<div class="L s" style="left:149.0px;top:880.0px;font-size:25.5px;transform:scaleX(0.9750);">Recommended</div>
<div class="L s" style="left:149.0px;top:909.0px;font-size:25.5px;transform:scaleX(0.9682);">items</div>
<div class="L mi" style="left:403.0px;top:876.0px;font-size:56px;transform:scaleX(1.2794);">Y</div>
<div class="L s" style="left:454.6px;top:896.0px;font-size:25.5px;transform:scaleX(0.9740);">Outcomes</div>
<div class="L s" style="left:619.0px;top:481.7px;font-size:34px;transform:scaleX(0.9783);"><b>Marginal Ratio Estimator for Off-Policy Evaluation (OPE):</b> A new OPE estimator for contextual bandits called the Marginal Ratio (MR) esti-</div>
<div class="L s" style="left:619.0px;top:521.5px;font-size:34px;">mator, which weights the data directly based on the shift in the marginal distribution of outcomes <i class="mi">Y</i> and consequently achieves a lower</div>
<div class="L s" style="left:619.0px;top:563.6px;font-size:34px;transform:scaleX(0.9650);">variance and is much more robust than existing methods.</div>
<div class="L s" style="left:720.0px;top:647.2px;font-size:34px;transform:scaleX(0.9706);">Suppose we are given some observational data collected using a behavioural policy <i class="mi">π</i><sup><i class="mi">b</i></sup> in the contextual bandits setting.</div>
<div class="L s" style="left:720.0px;top:722.6px;font-size:34px;transform:scaleX(0.9720);">We are now tasked to find the expected outcome if the actions were instead chosen using a new unseen policy <i class="mi">π</i><sup>*</sup>, i.e. <span class="mr">E</span><sub><i class="mi">π</i><sup>*</sup></sub><span class="mr">[</span><i class="mi">Y</i><span class="mr">]</span>.</div>
<div class="L s" style="left:720.0px;top:799.0px;font-size:34px;transform:scaleX(0.9793);">Current OPE methods such as Inverse Probability Weighting (IPW) and Doubly Robust (DR) estimators, suffer from high variance,</div>
<div class="L s" style="left:720.0px;top:840.2px;font-size:34px;transform:scaleX(0.9698);">particularly in cases of low overlap between target and behavior policies or large action and context spaces.</div>
<div class="L s" style="left:720.0px;top:914.8px;font-size:34px;transform:scaleX(0.9582);">To alleviate this, we propose the MR estimator, a new OPE estimator for contextual bandits which focuses on the shift in the marginal</div>
<div class="L s" style="left:720.0px;top:953.6px;font-size:34px;transform:scaleX(0.9818);">distribution of outcomes <i class="mi">Y</i> instead of the policies themselves.</div>
<div class="L s" style="left:720.0px;top:1030.0px;font-size:34px;transform:scaleX(0.9910);">Through rigorous theoretical and empirical analyses, we demonstrate the benefits of the MR estimator compared to conventional</div>
<div class="L s" style="left:720.0px;top:1071.0px;font-size:34px;transform:scaleX(0.9560);">methods like IPW and DR in terms of variance reduction.</div>
<div class="L s" style="left:92.6px;top:1277.7px;font-size:34px;transform:scaleX(1.0183);">Consider the standard contextual bandit setting.&nbsp; Let <i class="mi">X</i><span class="mr"> є </span><i class="mi">X</i> be a context vector</div>
<div class="L s" style="left:92.6px;top:1318.4px;font-size:34px;transform:scaleX(1.0038);">(e.g., user features), <i class="mi">A</i><span class="mr"> є </span><i class="mi">A</i> denote an action (e.g., recommended website to the</div>
<div class="L s" style="left:92.6px;top:1359.6px;font-size:34px;transform:scaleX(0.9823);">user), and <i class="mi">Y</i><span class="mr"> є </span><i class="mi">Y</i> denote a scalar reward or outcome (e.g., whether the user clicks</div>
<div class="L s" style="left:92.6px;top:1393.2px;font-size:34px;transform:scaleX(1.0089);">on the website).&nbsp; Let <i class="mi">D</i><span class="mr"> := {(</span><i class="mi">x</i><sub><i class="mi">i</i></sub><span class="mr">, </span><i class="mi">a</i><sub><i class="mi">i</i></sub><span class="mr">, </span><i class="mi">y</i><sub><i class="mi">i</i></sub><span class="mr">)}</span><span style="display:inline-block;vertical-align:-0.3em;font-size:0.68em;line-height:0.95;text-align:left"><i class="mi">n</i><br><i class="mi">i</i><span class="mr">=1</span></span> be a historically logged dataset with <i class="mi">n</i></div>
<div class="L s" style="left:92.6px;top:1442.4px;font-size:34px;transform:scaleX(0.9640);">observations sampled from the joint density under <i>behaviour policy</i>,</div>
<div class="L s" style="left:408.0px;top:1492.0px;font-size:34px;transform:scaleX(0.9741);"><i class="mi">p</i><sub><i class="mi">π</i><sup><i class="mi">b</i></sup></sub><span class="mr">(</span><i class="mi">x</i><span class="mr">, </span><i class="mi">a</i><span class="mr">, </span><i class="mi">y</i><span class="mr">)</span><span class="mr"> := </span><i class="mi">p</i><span class="mr">(</span><i class="mi">y</i><span class="mr"> | </span><i class="mi">x</i><span class="mr">, </span><i class="mi">a</i><span class="mr">) </span><span style="color:#1f1fff"><i class="mi">π</i><sup><i class="mi">b</i></sup><span class="mr">(</span><i class="mi">a</i><span class="mr"> | </span><i class="mi">x</i><span class="mr">)</span></span> <i class="mi">p</i><span class="mr">(</span><i class="mi">x</i><span class="mr">).</span></div>
<div class="L s" style="left:1254.8px;top:1493.0px;font-size:34px;transform:scaleX(0.8469);">(1)</div>
<div class="L s" style="left:92.6px;top:1543.0px;font-size:34px;transform:scaleX(0.9762);">We denote the joint density of <span class="mr">(</span><i class="mi">X</i><span class="mr">, </span><i class="mi">A</i><span class="mr">, </span><i class="mi">Y</i><span class="mr">)</span> under the <i>target policy</i> as</div>
<div class="L s" style="left:405.0px;top:1593.8px;font-size:34px;transform:scaleX(0.9968);"><i class="mi">p</i><sub><i class="mi">π</i><sup>*</sup></sub><span class="mr">(</span><i class="mi">x</i><span class="mr">, </span><i class="mi">a</i><span class="mr">, </span><i class="mi">y</i><span class="mr">)</span><span class="mr"> := </span><i class="mi">p</i><span class="mr">(</span><i class="mi">y</i><span class="mr"> | </span><i class="mi">x</i><span class="mr">, </span><i class="mi">a</i><span class="mr">) </span><span style="color:#e31a1a"><i class="mi">π</i><sup>*</sup><span class="mr">(</span><i class="mi">a</i><span class="mr"> | </span><i class="mi">x</i><span class="mr">)</span></span> <i class="mi">p</i><span class="mr">(</span><i class="mi">x</i><span class="mr">).</span></div>
<div class="L s" style="left:1254.8px;top:1594.8px;font-size:34px;transform:scaleX(0.8469);">(2)</div>
<div class="L s" style="left:92.6px;top:1644.6px;font-size:34px;transform:scaleX(0.9893);">Moreover, we use <i class="mi">p</i><sub><i class="mi">π</i><sup><i class="mi">b</i></sup></sub><span class="mr">(</span><i class="mi">y</i><span class="mr">)</span> to denote the marginal density of <i class="mi">Y</i> under the behaviour</div>
<div class="L s" style="left:92.6px;top:1688.0px;font-size:34px;transform:scaleX(0.9557);">policy,</div>
<div class="L s" style="left:447.6px;top:1728.4px;font-size:34px;transform:scaleX(1.0492);"><i class="mi">p</i><sub><i class="mi">π</i><sup><i class="mi">b</i></sup></sub><span class="mr">(</span><i class="mi">y</i><span class="mr">) = </span><span class="int">∫</span><span class="isub"><i class="mi">A</i><span class="mr">×</span><i class="mi">X</i></span><i class="mi">p</i><sub><i class="mi">π</i><sup><i class="mi">b</i></sup></sub><span class="mr">(</span><i class="mi">x</i><span class="mr">, </span><i class="mi">a</i><span class="mr">, </span><i class="mi">y</i><span class="mr">)</span><span class="mr"> d</span><i class="mi">a</i><span class="mr"> d</span><i class="mi">x</i><span class="mr">,</span></div>
<div class="L s" style="left:92.6px;top:1825.3px;font-size:34px;transform:scaleX(1.0164);">and likewise for the target policy <i class="mi">π</i><sup>*</sup>. Similarly, we use <span class="mr">E</span><sub><i class="mi">π</i><sup><i class="mi">b</i></sup></sub> and <span class="mr">E</span><sub><i class="mi">π</i><sup>*</sup></sub> to denote the</div>
<div class="L s" style="left:92.6px;top:1866.5px;font-size:34px;transform:scaleX(0.9787);">expectations under the joint densities <i class="mi">p</i><sub><i class="mi">π</i><sup><i class="mi">b</i></sup></sub><span class="mr">(</span><i class="mi">x</i><span class="mr">, </span><i class="mi">a</i><span class="mr">, </span><i class="mi">y</i><span class="mr">)</span> and <i class="mi">p</i><sub><i class="mi">π</i><sup>*</sup></sub><span class="mr">(</span><i class="mi">x</i><span class="mr">, </span><i class="mi">a</i><span class="mr">, </span><i class="mi">y</i><span class="mr">)</span> respectively.</div>
<div class="L s" style="left:92.6px;top:1963.4px;font-size:34px;transform:scaleX(0.9583);"><b>Off-policy evaluation (OPE)</b>&nbsp;&nbsp;&nbsp; The main goal is to estimate the expected outcome <i class="mi">Y</i></div>
<div class="L s" style="left:92.6px;top:2004.0px;font-size:34px;transform:scaleX(0.9889);">under a given target policy <i class="mi">π</i><sup>*</sup>, i.e., <span class="mr">E</span><sub><i class="mi">π</i><sup>*</sup></sub><span class="mr">[</span><i class="mi">Y</i><span class="mr">]</span>, using only the logged data <i class="mi">D</i>.</div>
<div class="L s" style="left:92.6px;top:2101.0px;font-size:34px;transform:scaleX(0.9719);"><b>Inverse Probability Weighting (IPW) estimator</b></div>
<div class="L s" style="left:145.6px;top:2156.8px;font-size:34px;"><span class="hat mi">θ<span class="mr">ˆ</span></span><sub><span class="s" style="font-size:0.95em">IPW</span></sub><span class="mr"> := </span><span class="fr"><span class="nu"><span class="mr">1</span></span><span class="de"><i class="mi">n</i></span></span><span class="op"><span class="sy">∑</span><span class="lt"><i class="mi">n</i></span><span class="lb"><i class="mi">i</i><span class="mr">=1</span></span></span><i class="mi">ρ</i><span class="mr">(</span><i class="mi">a</i><sub><i class="mi">i</i></sub><span class="mr">, </span><i class="mi">x</i><sub><i class="mi">i</i></sub><span class="mr">) </span><i class="mi">y</i><sub><i class="mi">i</i></sub></div>
<div class="L s" style="left:568.0px;top:2181.7px;font-size:34px;transform:scaleX(0.9504);">where,</div>
<div class="L s" style="left:742.8px;top:2156.8px;font-size:34px;transform:scaleX(0.9847);"><i class="mi">ρ</i><span class="mr">(</span><i class="mi">a</i><span class="mr">, </span><i class="mi">x</i><span class="mr">) := </span><span class="fr"><span class="nu"><i class="mi">p</i><sub><i class="mi">π</i><sup>*</sup></sub><span class="mr">(</span><i class="mi">x</i><span class="mr">, </span><i class="mi">a</i><span class="mr">, </span><i class="mi">y</i><span class="mr">)</span></span><span class="de"><i class="mi">p</i><sub><i class="mi">π</i><sup><i class="mi">b</i></sup></sub><span class="mr">(</span><i class="mi">x</i><span class="mr">, </span><i class="mi">a</i><span class="mr">, </span><i class="mi">y</i><span class="mr">)</span></span></span><span class="mr"> = </span><span class="fr"><span class="nu"><i class="mi">π</i><sup>*</sup><span class="mr">(</span><i class="mi">a</i><span class="mr">|</span><i class="mi">x</i><span class="mr">)</span></span><span class="de"><i class="mi">π</i><sup><i class="mi">b</i></sup><span class="mr">(</span><i class="mi">a</i><span class="mr">|</span><i class="mi">x</i><span class="mr">)</span></span></span><span class="mr">.</span></div>
<div class="L s" style="left:92.6px;top:2305.9px;font-size:34px;transform:scaleX(0.9537);"><b>Doubly Robust (DR) estimator</b></div>
<div class="L s" style="left:363.0px;top:2360.1px;font-size:34px;transform:scaleX(1.0202);"><span class="hat mi">θ<span class="mr">ˆ</span></span><sub><span class="s" style="font-size:0.95em">DR</span></sub><span class="mr"> = </span><span class="fr"><span class="nu"><span class="mr">1</span></span><span class="de"><i class="mi">n</i></span></span><span class="op"><span class="sy">∑</span><span class="lt"><i class="mi">n</i></span><span class="lb"><i class="mi">i</i><span class="mr">=1</span></span></span><i class="mi">ρ</i><span class="mr">(</span><i class="mi">a</i><sub><i class="mi">i</i></sub><span class="mr">, </span><i class="mi">x</i><sub><i class="mi">i</i></sub><span class="mr">) (</span><i class="mi">y</i><sub><i class="mi">i</i></sub><span class="mr"> − </span><span class="hat hatx mi">μ<span class="mr">ˆ</span></span><span class="mr">(</span><i class="mi">a</i><sub><i class="mi">i</i></sub><span class="mr">, </span><i class="mi">x</i><sub><i class="mi">i</i></sub><span class="mr">)) + </span><span class="hat hatx mi">η<span class="mr">ˆ</span></span><span class="mr">(</span><i class="mi">π</i><sup>*</sup><span class="mr">),</span></div>
<div class="L s" style="left:92.6px;top:2459.4px;font-size:34px;transform:scaleX(1.0893);">where <span class="hat hatx mi">η<span class="mr">ˆ</span></span><span class="mr">(</span><i class="mi">π</i><sup>*</sup><span class="mr">) = </span><span class="frs"><span class="nu"><span class="mr">1</span></span><span class="de"><i class="mi">n</i></span></span><span class="mr">∑</span><span style="display:inline-block;vertical-align:-0.3em;font-size:0.68em;line-height:0.95;text-align:left"><i class="mi">n</i><br><i class="mi">i</i><span class="mr">=1</span></span><span class="mr"> ∑</span><sub><i class="mi">a</i><span class="mr">′є</span><i class="mi">A</i></sub> <span class="hat hatx mi">μ<span class="mr">ˆ</span></span><span class="mr">(</span><i class="mi">a</i><span class="mr">′, </span><i class="mi">x</i><sub><i class="mi">i</i></sub><span class="mr">)</span><i class="mi">π</i><sup>*</sup><span class="mr">(</span><i class="mi">a</i><span class="mr">′ | </span><i class="mi">x</i><sub><i class="mi">i</i></sub><span class="mr">) ≈ </span><span class="mr">E</span><sub><i class="mi">π</i><sup>*</sup></sub><span class="mr">[</span><span class="hat hatx mi">μ<span class="mr">ˆ</span></span><span class="mr">(</span><i class="mi">A</i><span class="mr">, </span><i class="mi">X</i><span class="mr">)].</span></div>
<div class="L s" style="left:92.6px;top:2564.5px;font-size:34px;transform:scaleX(0.9474);"><b>Marginalised&nbsp; Inverse&nbsp; Propensity&nbsp; Score&nbsp; (MIPS)</b></div>
<div class="L s" style="left:92.6px;top:2605.7px;font-size:34px;transform:scaleX(0.9653);"><b>estimator</b></div>
<div class="L s" style="left:220.7px;top:2654.1px;font-size:34px;transform:scaleX(1.0384);"><span class="hat mi">θ<span class="mr">ˆ</span></span><sub><span class="s" style="font-size:0.95em">MIPS</span></sub><span class="mr"> := </span><span class="fr"><span class="nu"><span class="mr">1</span></span><span class="de"><i class="mi">n</i></span></span><span class="op"><span class="sy">∑</span><span class="lt"><i class="mi">n</i></span><span class="lb"><i class="mi">i</i><span class="mr">=1</span></span></span><span class="fr"><span class="nu"><i class="mi">p</i><sub><i class="mi">π</i><sup>*</sup></sub><span class="mr">(</span><i class="mi">e</i><sub><i class="mi">i</i></sub><span class="mr"> | </span><i class="mi">x</i><sub><i class="mi">i</i></sub><span class="mr">)</span></span><span class="de"><i class="mi">p</i><sub><i class="mi">π</i><sup><i class="mi">b</i></sup></sub><span class="mr">(</span><i class="mi">e</i><sub><i class="mi">i</i></sub><span class="mr"> | </span><i class="mi">x</i><sub><i class="mi">i</i></sub><span class="mr">)</span></span></span><i class="mi">y</i><sub><i class="mi">i</i></sub><span class="mr">,</span></div>
<div class="L s" style="left:830.0px;top:2659.0px;font-size:36px;transform:scaleX(0.8748);"><span class="mr">(</span><i class="mi">X</i><span class="mr">, </span><i class="mi">A</i><span class="mr">)</span></div>
<div class="L s" style="left:1024.5px;top:2659.0px;font-size:36px;transform:scaleX(0.8798);"><span class="mr">(</span><i class="mi">X</i><span class="mr">, </span><i class="mi">E</i><span class="mr">)</span></div>
<div class="L s" style="left:1249.0px;top:2659.0px;font-size:36px;transform:scaleX(0.9958);"><i class="mi">Y</i></div>
<div class="L s" style="left:1437.0px;top:1278.8px;font-size:34px;transform:scaleX(0.9591);">Considering the joint shift can lead to inefficient policy evaluation and high variance</div>
<div class="L s" style="left:1437.0px;top:1318.5px;font-size:34px;transform:scaleX(0.9850);">especially as the policy shift increases.&nbsp; Since our goal is to estimate <span class="mr">E</span><sub><i class="mi">π</i><sup>*</sup></sub><span class="mr">[</span><i class="mi">Y</i><span class="mr">]</span>, con-</div>
<div class="L s" style="left:1437.0px;top:1359.7px;font-size:34px;transform:scaleX(1.0098);">sidering only the shift in the marginal distribution of the outcomes <i class="mi">Y</i> from <i class="mi">p</i><sub><i class="mi">π</i><sup><i class="mi">b</i></sup></sub><span class="mr">(</span><i class="mi">Y</i><span class="mr">)</span></div>
<div class="L s" style="left:1437.0px;top:1400.4px;font-size:34px;transform:scaleX(1.0219);">to <i class="mi">p</i><sub><i class="mi">π</i><sup>*</sup></sub><span class="mr">(</span><i class="mi">Y</i><span class="mr">)</span>, leads to a more efficient OPE methodology compared to existing ap-</div>
<div class="L s" style="left:1437.0px;top:1442.6px;font-size:34px;transform:scaleX(0.9201);">proaches.</div>
<div class="L s" style="left:1437.0px;top:1483.3px;font-size:34px;transform:scaleX(0.9578);">Our method’s key insight involves weighting outcomes by the marginal density ratio</div>
<div class="L s" style="left:1437.0px;top:1523.5px;font-size:34px;transform:scaleX(0.9969);">of outcome <i class="mi">Y</i>:</div>
<div class="L s" style="left:1553.5px;top:1559.4px;font-size:34px;transform:scaleX(1.0424);"><span class="mr">E</span><sub><span style="color:#e31a1a"><i class="mi">π</i><sup>*</sup></span></sub><span class="mr"> [</span><i class="mi">Y</i><span class="mr">] = </span><span class="int">∫</span><span class="isub"><i class="mi">Y</i></span><i class="mi">y </i><i class="mi">p</i><sub><i class="mi">π</i><sup>*</sup></sub><span class="mr">(</span><i class="mi">y</i><span class="mr">)</span><span class="mr"> d</span><i class="mi">y</i><span class="mr"> = </span><span class="int">∫</span><span class="isub"><i class="mi">Y</i></span><i class="mi">y </i><span class="fr"><span class="nu"><i class="mi">p</i><sub><i class="mi">π</i><sup>*</sup></sub><span class="mr">(</span><i class="mi">y</i><span class="mr">)</span></span><span class="de"><i class="mi">p</i><sub><i class="mi">π</i><sup><i class="mi">b</i></sup></sub><span class="mr">(</span><i class="mi">y</i><span class="mr">)</span></span></span><i class="mi">p</i><sub><i class="mi">π</i><sup><i class="mi">b</i></sup></sub><span class="mr">(</span><i class="mi">y</i><span class="mr">)</span><span class="mr"> d</span><i class="mi">y</i><span class="mr"> = </span><span class="mr">E</span><sub><span style="color:#1f1fff"><i class="mi">π</i><sup><i class="mi">b</i></sup></span></sub><span class="mr"> [</span><i class="mi">Y</i><i class="mi"> w</i><span class="mr">(</span><i class="mi">Y</i><span class="mr">)] ,</span></div>
<div class="L s" style="left:1437.0px;top:1663.3px;font-size:34px;transform:scaleX(0.9890);">where <i class="mi">w</i><span class="mr">(</span><i class="mi">y</i><span class="mr">) := </span><span class="frs"><span class="nu"><i class="mi">p</i><sub><i class="mi">π</i><sup>*</sup></sub><span class="mr">(</span><i class="mi">y</i><span class="mr">)</span></span><span class="de"><i class="mi">p</i><sub><i class="mi">π</i><sup><i class="mi">b</i></sup></sub><span class="mr">(</span><i class="mi">y</i><span class="mr">)</span></span></span>. This leads to the Marginal Ratio OPE estimator:</div>
<div class="L s" style="left:1879.5px;top:1736.9px;font-size:34px;transform:scaleX(0.9909);"><span class="hat mi">θ<span class="mr">ˆ</span></span><sub><span class="s" style="font-size:0.95em">MR</span></sub><span class="mr"> := </span><span class="fr"><span class="nu"><span class="mr">1</span></span><span class="de"><i class="mi">n</i></span></span><span class="op"><span class="sy">∑</span><span class="lt"><i class="mi">n</i></span><span class="lb"><i class="mi">i</i><span class="mr">=1</span></span></span><i class="mi">w</i><span class="mr">(</span><i class="mi">y</i><sub><i class="mi">i</i></sub><span class="mr">) </span><i class="mi">y</i><sub><i class="mi">i</i></sub><span class="mr">.</span></div>
<div class="L s" style="left:1437.0px;top:1890.3px;font-size:34px;transform:scaleX(0.9944);"><b>Estimation&nbsp; of</b> <i class="mi">w</i><span class="mr">(</span><i class="mi">y</i><span class="mr">)</span>&nbsp;&nbsp;&nbsp; Let&nbsp; <i class="mi">w</i><span class="mr">(</span><i class="mi">y</i><span class="mr">)</span><span class="mr">&nbsp;&nbsp; = &nbsp;&nbsp;</span><span class="frs"><span class="nu"><i class="mi">p</i><sub><i class="mi">π</i><sup>*</sup></sub><span class="mr">(</span><i class="mi">y</i><span class="mr">)</span></span><span class="de"><i class="mi">p</i><sub><i class="mi">π</i><sup><i class="mi">b</i></sup></sub><span class="mr">(</span><i class="mi">y</i><span class="mr">)</span></span></span>&nbsp; and&nbsp; <i class="mi">ρ</i><span class="mr">(</span><i class="mi">a</i><span class="mr">, </span><i class="mi">x</i><span class="mr">)</span><span class="mr">&nbsp;&nbsp; = &nbsp;&nbsp;</span><span class="frs"><span class="nu"><i class="mi">π</i><sup>*</sup><span class="mr">(</span><i class="mi">a</i><span class="mr">|</span><i class="mi">x</i><span class="mr">)</span></span><span class="de"><i class="mi">π</i><sup><i class="mi">b</i></sup><span class="mr">(</span><i class="mi">a</i><span class="mr">|</span><i class="mi">x</i><span class="mr">)</span></span></span>,&nbsp; then&nbsp; <i class="mi">w</i><span class="mr">(</span><i class="mi">y</i><span class="mr">)</span><span class="mr">&nbsp;&nbsp; =</span></div>
<div class="L s" style="left:1437.0px;top:1945.6px;font-size:34px;transform:scaleX(1.0207);"><span class="mr">E</span><sub><i class="mi">π</i><sup><i class="mi">b</i></sup></sub><span class="mr"> [</span><i class="mi">ρ</i><span class="mr">(</span><i class="mi">A</i><span class="mr">, </span><i class="mi">X</i><span class="mr">)</span><span class="mr"> | </span><i class="mi">Y</i><span class="mr"> = </span><i class="mi">y</i><span class="mr">]</span>, and,</div>
<div class="L s" style="left:1752.4px;top:1996.4px;font-size:34px;transform:scaleX(1.0289);"><i class="mi">w</i><span class="mr"> = arg </span><span style="display:inline-block;position:relative"><span class="mr">min</span><span style="position:absolute;left:0;right:0;top:1.5em;text-align:center;font-size:0.7em;line-height:1"><i class="mi">f</i></span></span><span class="mr"> </span><span class="mr">E</span><sub><i class="mi">π</i><sup><i class="mi">b</i></sup></sub><span class="mr"> [(</span><i class="mi">ρ</i><span class="mr">(</span><i class="mi">A</i><span class="mr">, </span><i class="mi">X</i><span class="mr">)</span><span class="mr"> − </span><i class="mi">f</i><span class="mr">(</span><i class="mi">Y</i><span class="mr">))</span><sup><span class="mr">2</span></sup><span class="mr">] .</span></div>
<div class="L s" style="left:1437.0px;top:2283.4px;font-size:34px;transform:scaleX(0.9357);"><b>Proposition 0.1</b> (Variance comparison with IPW estimator).&nbsp; <i>When the weights</i> <i class="mi">ρ</i><span class="mr">(</span><i class="mi">a</i><span class="mr">, </span><i class="mi">x</i><span class="mr">)</span></div>
<div class="L s" style="left:1437.0px;top:2328.6px;font-size:34px;transform:scaleX(0.9388);"><i>and</i> <i class="mi">w</i><span class="mr">(</span><i class="mi">y</i><span class="mr">)</span> <i>are known exactly, we have that</i> <span style="font-style:normal">Var<sub><i class="mi">π</i><sup><i class="mi">b</i></sup></sub><span class="mr">[</span><span class="hat mi">θ<span class="mr">ˆ</span></span><sub><span class="s" style="font-size:0.95em;font-style:normal">MR</span></sub><span class="mr">]</span></span><span class="mr"> ≤ </span><span style="font-style:normal">Var<sub><i class="mi">π</i><sup><i class="mi">b</i></sup></sub><span class="mr">[</span><span class="hat mi">θ<span class="mr">ˆ</span></span><sub><span class="s" style="font-size:0.95em;font-style:normal">IPW</span></sub><span class="mr">]</span></span>. <i>In particular,</i></div>
<div class="L s" style="left:1585.7px;top:2372.5px;font-size:34px;transform:scaleX(0.9966);"><span style="font-style:normal">Var<sub><i class="mi">π</i><sup><i class="mi">b</i></sup></sub><span class="mr">[</span><span class="hat mi">θ<span class="mr">ˆ</span></span><sub><span class="s" style="font-size:0.95em;font-style:normal">IPW</span></sub><span class="mr">]</span></span><span class="mr"> − </span><span style="font-style:normal">Var<sub><i class="mi">π</i><sup><i class="mi">b</i></sup></sub><span class="mr">[</span><span class="hat mi">θ<span class="mr">ˆ</span></span><sub><span class="s" style="font-size:0.95em;font-style:normal">MR</span></sub><span class="mr">]</span></span><span class="mr"> = </span><span class="fr"><span class="nu"><span class="mr">1</span></span><span class="de"><i class="mi">n</i></span></span><span class="mr">E</span><sub><i class="mi">π</i><sup><i class="mi">b</i></sup></sub><span class="mr"> [</span>Var<sub><i class="mi">π</i><sup><i class="mi">b</i></sup></sub><span class="mr"> [</span><i class="mi">ρ</i><span class="mr">(</span><i class="mi">A</i><span class="mr">, </span><i class="mi">X</i><span class="mr">)</span><span class="mr"> | </span><i class="mi">Y</i><span class="mr">] </span><i class="mi">Y</i><sup><span class="mr">2</span></sup><span class="mr">] ≥ 0.</span></div>
<div class="L s" style="left:1437.0px;top:2482.3px;font-size:34px;transform:scaleX(0.9471);"><b>Proposition 0.2</b> (Variance comparison with DR estimator).&nbsp; <i>When the weights</i> <i class="mi">ρ</i><span class="mr">(</span><i class="mi">a</i><span class="mr">, </span><i class="mi">x</i><span class="mr">)</span></div>
<div class="L s" style="left:1437.0px;top:2523.5px;font-size:34px;transform:scaleX(0.9544);"><i>and</i> <i class="mi">w</i><span class="mr">(</span><i class="mi">y</i><span class="mr">)</span> <i>are known exactly and</i> <i class="mi">μ</i><span class="mr">(</span><i class="mi">A</i><span class="mr">, </span><i class="mi">X</i><span class="mr">)</span><span class="mr"> := E[</span><i class="mi">Y</i><span class="mr"> | </span><i class="mi">X</i><span class="mr">, </span><i class="mi">A</i><span class="mr">]</span><i>, we have that,</i></div>
<div class="L s" style="left:1437.0px;top:2567.5px;font-size:34px;transform:scaleX(0.9820);"><span style="font-style:normal">Var<sub><i class="mi">π</i><sup><i class="mi">b</i></sup></sub><span class="mr">[</span><span class="hat mi">θ<span class="mr">ˆ</span></span><sub><span class="s" style="font-size:0.95em;font-style:normal">DR</span></sub><span class="mr">]</span></span><span class="mr"> − </span><span style="font-style:normal">Var<sub><i class="mi">π</i><sup><i class="mi">b</i></sup></sub><span class="mr">[</span><span class="hat mi">θ<span class="mr">ˆ</span></span><sub><span class="s" style="font-size:0.95em;font-style:normal">MR</span></sub><span class="mr">]</span></span><span class="mr"> ≥ </span><span class="fr"><span class="nu"><span class="mr">1</span></span><span class="de"><i class="mi">n</i></span></span><span class="mr">E</span><sub><i class="mi">π</i><sup><i class="mi">b</i></sup></sub><span class="mr"> [</span>Var<sub><i class="mi">π</i><sup><i class="mi">b</i></sup></sub><span class="mr"> [</span><i class="mi">ρ</i><span class="mr">(</span><i class="mi">A</i><span class="mr">, </span><i class="mi">X</i><span class="mr">)</span><i class="mi"> Y</i><span class="mr"> | </span><i class="mi">Y</i><span class="mr">] − </span>Var<sub><i class="mi">π</i><sup><i class="mi">b</i></sup></sub><span class="mr"> [</span><i class="mi">ρ</i><span class="mr">(</span><i class="mi">A</i><span class="mr">, </span><i class="mi">X</i><span class="mr">)</span><i class="mi"> μ</i><span class="mr">(</span><i class="mi">A</i><span class="mr">, </span><i class="mi">X</i><span class="mr">)</span><span class="mr"> | </span><i class="mi">X</i><span class="mr">]] .</span></div>
<div class="L s" style="left:1437.0px;top:2680.3px;font-size:34px;transform:scaleX(0.9623);"><b>Theorem 0.3.</b>&nbsp; <i>When the weights</i> <i class="mi">w</i><span class="mr">(</span><i class="mi">y</i><span class="mr">),</span> <span class="frs"><span class="nu"><i class="mi">p</i><sub><i class="mi">π</i><sup>*</sup></sub><span class="mr">(</span><i class="mi">e</i><span class="mr">, </span><i class="mi">x</i><span class="mr">)</span></span><span class="de"><i class="mi">p</i><sub><i class="mi">π</i><sup><i class="mi">b</i></sup></sub><span class="mr">(</span><i class="mi">e</i><span class="mr">, </span><i class="mi">x</i><span class="mr">)</span></span></span> <i>and</i> <i class="mi">ρ</i><span class="mr">(</span><i class="mi">a</i><span class="mr">, </span><i class="mi">x</i><span class="mr">)</span> <i>are known exactly, then if</i></div>
<div class="L s" style="left:1437.0px;top:2741.0px;font-size:34px;transform:scaleX(0.9403);"><i class="mi">E</i> <i>satisfies the DAG shown on the left,</i> <span style="font-style:normal">Var<sub><i class="mi">π</i><sup><i class="mi">b</i></sup></sub><span class="mr">[</span><span class="hat mi">θ<span class="mr">ˆ</span></span><sub><span class="s" style="font-size:0.95em;font-style:normal">MR</span></sub><span class="mr">]</span></span><span class="mr"> ≤ </span><span style="font-style:normal">Var<sub><i class="mi">π</i><sup><i class="mi">b</i></sup></sub><span class="mr">[</span><span class="hat mi">θ<span class="mr">ˆ</span></span><sub><span class="s" style="font-size:0.95em;font-style:normal">MIPS</span></sub><span class="mr">]</span></span><span class="mr"> ≤ </span><span style="font-style:normal">Var<sub><i class="mi">π</i><sup><i class="mi">b</i></sup></sub><span class="mr">[</span><span class="hat mi">θ<span class="mr">ˆ</span></span><sub><span class="s" style="font-size:0.95em;font-style:normal">IPW</span></sub><span class="mr">]</span></span>.</div>
<div class="L s" style="left:2781.4px;top:1815.2px;font-size:34px;transform:scaleX(1.0047);">Figure 1: Results for the different baselines with changing number of evaluation</div>
<div class="L s" style="left:2781.4px;top:1856.2px;font-size:34px;transform:scaleX(0.9825);">data <i class="mi">n</i>, target policy shift <i class="mi">α</i><sup>*</sup>, number of actions <i class="mi">n</i><sub><i class="mi">a</i></sub> and context dimensions <i class="mi">d</i>.</div>
<div class="L s" style="left:2781.4px;top:1932.0px;font-size:34px;transform:scaleX(1.0139);">Table 1: Mean squared error of target policy value with standard errors over 10</div>
<div class="L s" style="left:2781.4px;top:1972.8px;font-size:34px;transform:scaleX(0.9596);">different seeds for different classification datasets. Here, number of evaluation data</div>
<div class="L s" style="left:2781.4px;top:2013.8px;font-size:34px;transform:scaleX(0.9876);"><i class="mi">n</i><span class="mr"> = 1000</span>, and <i class="mi">α</i><sup>*</sup><span class="mr"> = 0.6</span>.</div>
<div class="L s" style="left:2802.6px;top:2074.2px;font-size:17.5px;transform:scaleX(0.9300);">Dataset</div>
<div class="L s" style="left:2915.0px;top:2074.2px;font-size:17.5px;transform:scaleX(0.9300);">Digits</div>
<div class="L s" style="left:3078.6px;top:2074.2px;font-size:17.5px;transform:scaleX(0.9300);">Letter</div>
<div class="L s" style="left:3243.4px;top:2074.2px;font-size:17.5px;transform:scaleX(0.9300);">OptDigits</div>
<div class="L s" style="left:3408.2px;top:2074.2px;font-size:17.5px;transform:scaleX(0.9300);">PenDigits</div>
<div class="L s" style="left:3572.0px;top:2074.2px;font-size:17.5px;transform:scaleX(0.9300);">SatImage</div>
<div class="L s" style="left:3736.5px;top:2074.2px;font-size:17.5px;transform:scaleX(0.9300);">Mnist</div>
<div class="L s" style="left:3901.2px;top:2074.2px;font-size:17.5px;transform:scaleX(0.9300);">CIFAR-100</div>
<div class="L s" style="left:2802.6px;top:2115.3px;font-size:17.5px;transform:scaleX(0.9300);">DM</div>
<div class="L s" style="left:2802.6px;top:2135.7px;font-size:17.5px;transform:scaleX(0.9300);">DR</div>
<div class="L s" style="left:2802.6px;top:2155.8px;font-size:17.5px;transform:scaleX(0.9300);">DRos</div>
<div class="L s" style="left:2802.6px;top:2176.1px;font-size:17.5px;transform:scaleX(0.9300);">IPW</div>
<div class="L s" style="left:2802.6px;top:2197.4px;font-size:17.5px;transform:scaleX(0.9300);">SwitchDR</div>
<div class="L s" style="left:2802.6px;top:2217.2px;font-size:17.5px;transform:scaleX(0.9300);">MR (Ours)</div>
<div class="L s" style="left:2915.0px;top:2115.3px;font-size:17.5px;transform:scaleX(0.9866);">0.1508<span class="pm">±</span>0.0015</div>
<div class="L s" style="left:2915.0px;top:2135.7px;font-size:17.5px;transform:scaleX(0.9866);">0.1334<span class="pm">±</span>0.0400</div>
<div class="L s" style="left:2915.0px;top:2155.8px;font-size:17.5px;transform:scaleX(0.9866);">0.0847<span class="pm">±</span>0.0025</div>
<div class="L s" style="left:2915.0px;top:2176.1px;font-size:17.5px;transform:scaleX(0.9866);">0.1632<span class="pm">±</span>0.0462</div>
<div class="L s" style="left:2915.0px;top:2197.4px;font-size:17.5px;transform:scaleX(0.9866);">0.0982<span class="pm">±</span>0.0032</div>
<div class="L s" style="left:2915.0px;top:2217.2px;font-size:17.5px;transform:scaleX(1.0921);"><b>0.0034</b><span class="pm">±</span><b>0.0001</b></div>
<div class="L s" style="left:3078.6px;top:2115.3px;font-size:17.5px;transform:scaleX(0.9866);">0.0886<span class="pm">±</span>0.0026</div>
<div class="L s" style="left:3078.6px;top:2135.7px;font-size:17.5px;color:#e31a1a;transform:scaleX(0.9866);">35.085<span class="pm">±</span>17.768</div>
<div class="L s" style="left:3078.6px;top:2155.8px;font-size:17.5px;transform:scaleX(0.9866);">0.2363<span class="pm">±</span>0.0586</div>
<div class="L s" style="left:3078.6px;top:2176.1px;font-size:17.5px;color:#e31a1a;transform:scaleX(0.9866);">45.253<span class="pm">±</span>22.057</div>
<div class="L s" style="left:3078.6px;top:2197.4px;font-size:17.5px;transform:scaleX(0.9866);">0.2387<span class="pm">±</span>0.0507</div>
<div class="L s" style="left:3078.6px;top:2217.2px;font-size:17.5px;transform:scaleX(1.0921);"><b>0.0018</b><span class="pm">±</span><b>0.0004</b></div>
<div class="L s" style="left:3243.4px;top:2115.3px;font-size:17.5px;transform:scaleX(0.9866);">0.0485<span class="pm">±</span>0.0016</div>
<div class="L s" style="left:3243.4px;top:2135.7px;font-size:17.5px;transform:scaleX(0.9866);">0.0464<span class="pm">±</span>0.0061</div>
<div class="L s" style="left:3243.4px;top:2155.8px;font-size:17.5px;transform:scaleX(0.9866);">0.0384<span class="pm">±</span>0.0025</div>
<div class="L s" style="left:3243.4px;top:2176.1px;font-size:17.5px;transform:scaleX(0.9866);">0.0844<span class="pm">±</span>0.0056</div>
<div class="L s" style="left:3243.4px;top:2197.4px;font-size:17.5px;transform:scaleX(0.9866);">0.0557<span class="pm">±</span>0.0047</div>
<div class="L s" style="left:3243.4px;top:2217.2px;font-size:17.5px;transform:scaleX(1.0921);"><b>0.0006</b><span class="pm">±</span><b>0.0002</b></div>
<div class="L s" style="left:3408.2px;top:2115.3px;font-size:17.5px;transform:scaleX(0.9866);">0.0520<span class="pm">±</span>0.0016</div>
<div class="L s" style="left:3408.2px;top:2135.7px;font-size:17.5px;transform:scaleX(0.9866);">0.2343<span class="pm">±</span>0.1404</div>
<div class="L s" style="left:3408.2px;top:2155.8px;font-size:17.5px;transform:scaleX(0.9866);">0.0138<span class="pm">±</span>0.0029</div>
<div class="L s" style="left:3408.2px;top:2176.1px;font-size:17.5px;transform:scaleX(0.9866);">0.1342<span class="pm">±</span>0.0531</div>
<div class="L s" style="left:3408.2px;top:2197.4px;font-size:17.5px;transform:scaleX(0.9866);">0.0342<span class="pm">±</span>0.0090</div>
<div class="L s" style="left:3408.2px;top:2217.2px;font-size:17.5px;transform:scaleX(1.0921);"><b>0.0008</b><span class="pm">±</span><b>0.0002</b></div>
<div class="L s" style="left:3572.0px;top:2115.3px;font-size:17.5px;transform:scaleX(0.9866);">0.0208<span class="pm">±</span>0.0009</div>
<div class="L s" style="left:3572.0px;top:2135.7px;font-size:17.5px;transform:scaleX(0.9866);">0.0560<span class="pm">±</span>0.0395</div>
<div class="L s" style="left:3572.0px;top:2155.8px;font-size:17.5px;transform:scaleX(0.9866);">0.0078<span class="pm">±</span>0.0008</div>
<div class="L s" style="left:3572.0px;top:2176.1px;font-size:17.5px;transform:scaleX(0.9866);">0.0900<span class="pm">±</span>0.0676</div>
<div class="L s" style="left:3572.0px;top:2197.4px;font-size:17.5px;transform:scaleX(0.9866);">0.0136<span class="pm">±</span>0.0012</div>
<div class="L s" style="left:3572.0px;top:2217.2px;font-size:17.5px;transform:scaleX(1.0921);"><b>0.0016</b><span class="pm">±</span><b>0.0003</b></div>
<div class="L s" style="left:3736.5px;top:2115.3px;font-size:17.5px;transform:scaleX(0.9975);">0.1109<span class="pm">±</span>0.0014</div>
<div class="L s" style="left:3736.5px;top:2135.7px;font-size:17.5px;transform:scaleX(0.9866);">0.2617<span class="pm">±</span>0.0139</div>
<div class="L s" style="left:3736.5px;top:2155.8px;font-size:17.5px;transform:scaleX(0.9866);">0.2151<span class="pm">±</span>0.0061</div>
<div class="L s" style="left:3736.5px;top:2176.1px;font-size:17.5px;transform:scaleX(0.9975);">0.3359<span class="pm">±</span>0.0118</div>
<div class="L s" style="left:3736.5px;top:2197.4px;font-size:17.5px;transform:scaleX(0.9866);">0.2750<span class="pm">±</span>0.0102</div>
<div class="L s" style="left:3736.5px;top:2217.2px;font-size:17.5px;transform:scaleX(1.0921);"><b>0.0121</b><span class="pm">±</span><b>0.0009</b></div>
<div class="L s" style="left:3901.2px;top:2115.3px;font-size:17.5px;transform:scaleX(0.9866);">0.0020<span class="pm">±</span>0.0001</div>
<div class="L s" style="left:3901.2px;top:2135.7px;font-size:17.5px;color:#e31a1a;transform:scaleX(0.9866);">3823.9<span class="pm">±</span>2023.2</div>
<div class="L s" style="left:3901.2px;top:2155.8px;font-size:17.5px;transform:scaleX(0.9866);">0.2628<span class="pm">±</span>0.1087</div>
<div class="L s" style="left:3901.2px;top:2176.1px;font-size:17.5px;color:#e31a1a;transform:scaleX(0.9975);">4116.9<span class="pm">±</span>2097.9</div>
<div class="L s" style="left:3901.2px;top:2197.4px;font-size:17.5px;transform:scaleX(0.9866);">1.1644<span class="pm">±</span>0.8227</div>
<div class="L s" style="left:3901.2px;top:2217.2px;font-size:17.5px;transform:scaleX(1.0921);"><b>0.0007</b><span class="pm">±</span><b>0.0002</b></div>
<div class="L s" style="left:2781.4px;top:2284.7px;font-size:34px;transform:scaleX(0.9557);">Table 2: <b>Application to ATE estimation in causal inference:</b> Mean absolute ATE esti-</div>
<div class="L s" style="left:2781.4px;top:2324.5px;font-size:34px;transform:scaleX(0.9462);">mation error <i class="mi">є</i><sub><span class="s" style="font-size:0.95em">ATE</span></sub> with standard errors over 10 different seeds, for increasing number</div>
<div class="L s" style="left:2781.4px;top:2365.4px;font-size:34px;transform:scaleX(0.9778);">of evaluation data <i class="mi">n</i>.</div>
<div class="L mi" style="left:2873.0px;top:2425.4px;font-size:31px;"><i class="mi">n</i></div>
<div class="L s" style="left:3043.5px;top:2425.4px;font-size:31px;">50</div>
<div class="L s" style="left:3263.0px;top:2425.4px;font-size:31px;">200</div>
<div class="L s" style="left:3483.0px;top:2425.4px;font-size:31px;">1600</div>
<div class="L s" style="left:3703.0px;top:2425.4px;font-size:31px;">3200</div>
<div class="L s" style="left:2873.0px;top:2483.8px;font-size:31px;transform:scaleX(0.9300);">DM</div>
<div class="L s" style="left:2873.0px;top:2520.0px;font-size:31px;transform:scaleX(0.9300);">DR</div>
<div class="L s" style="left:2873.0px;top:2556.3px;font-size:31px;transform:scaleX(0.9300);">DRos</div>
<div class="L s" style="left:2873.0px;top:2593.0px;font-size:31px;transform:scaleX(0.9300);">IPW</div>
<div class="L s" style="left:2873.0px;top:2629.8px;font-size:31px;transform:scaleX(0.9300);">SwitchDR</div>
<div class="L s" style="left:2873.0px;top:2667.0px;font-size:31px;transform:scaleX(0.9300);">MR (Ours)</div>
<div class="L s" style="left:3043.5px;top:2483.8px;font-size:31px;transform:scaleX(0.9625);">0.092<span class="pm">±</span>0.003</div>
<div class="L s" style="left:3043.5px;top:2520.0px;font-size:31px;transform:scaleX(0.9625);">0.101<span class="pm">±</span>0.024</div>
<div class="L s" style="left:3043.5px;top:2556.3px;font-size:31px;transform:scaleX(0.9625);">0.100<span class="pm">±</span>0.017</div>
<div class="L s" style="left:3043.5px;top:2593.0px;font-size:31px;transform:scaleX(0.9625);">0.092<span class="pm">±</span>0.024</div>
<div class="L s" style="left:3043.5px;top:2629.8px;font-size:31px;transform:scaleX(0.9625);">0.101<span class="pm">±</span>0.024</div>
<div class="L s" style="left:3043.5px;top:2667.0px;font-size:31px;transform:scaleX(1.0745);"><b>0.062</b><span class="pm">±</span><b>0.007</b></div>
<div class="L s" style="left:3263.0px;top:2483.8px;font-size:31px;transform:scaleX(0.9625);">0.092<span class="pm">±</span>0.003</div>
<div class="L s" style="left:3263.0px;top:2520.0px;font-size:31px;transform:scaleX(1.0745);"><b>0.065</b><span class="pm">±</span><b>0.009</b></div>
<div class="L s" style="left:3263.0px;top:2556.3px;font-size:31px;transform:scaleX(0.9625);">0.089<span class="pm">±</span>0.006</div>
<div class="L s" style="left:3263.0px;top:2593.0px;font-size:31px;transform:scaleX(0.9625);">0.088<span class="pm">±</span>0.014</div>
<div class="L s" style="left:3263.0px;top:2629.8px;font-size:31px;transform:scaleX(1.0745);"><b>0.065</b><span class="pm">±</span><b>0.009</b></div>
<div class="L s" style="left:3263.0px;top:2667.0px;font-size:31px;transform:scaleX(1.0745);"><b>0.065</b><span class="pm">±</span><b>0.007</b></div>
<div class="L s" style="left:3483.0px;top:2483.8px;font-size:31px;transform:scaleX(0.9625);">0.092<span class="pm">±</span>0.004</div>
<div class="L s" style="left:3483.0px;top:2520.0px;font-size:31px;transform:scaleX(0.9625);">0.071<span class="pm">±</span>0.005</div>
<div class="L s" style="left:3483.0px;top:2556.3px;font-size:31px;transform:scaleX(0.9625);">0.093<span class="pm">±</span>0.004</div>
<div class="L s" style="left:3483.0px;top:2593.0px;font-size:31px;transform:scaleX(0.9625);">0.067<span class="pm">±</span>0.007</div>
<div class="L s" style="left:3483.0px;top:2629.8px;font-size:31px;transform:scaleX(0.9625);">0.071<span class="pm">±</span>0.005</div>
<div class="L s" style="left:3483.0px;top:2667.0px;font-size:31px;transform:scaleX(1.0745);"><b>0.061</b><span class="pm">±</span><b>0.005</b></div>
<div class="L s" style="left:3703.0px;top:2483.8px;font-size:31px;transform:scaleX(0.9625);">0.092<span class="pm">±</span>0.004</div>
<div class="L s" style="left:3703.0px;top:2520.0px;font-size:31px;transform:scaleX(0.9625);">0.069<span class="pm">±</span>0.004</div>
<div class="L s" style="left:3703.0px;top:2556.3px;font-size:31px;transform:scaleX(0.9625);">0.087<span class="pm">±</span>0.004</div>
<div class="L s" style="left:3703.0px;top:2593.0px;font-size:31px;transform:scaleX(0.9625);">0.067<span class="pm">±</span>0.007</div>
<div class="L s" style="left:3703.0px;top:2629.8px;font-size:31px;transform:scaleX(0.9625);">0.069<span class="pm">±</span>0.004</div>
<div class="L s" style="left:3703.0px;top:2667.0px;font-size:31px;transform:scaleX(1.0745);"><b>0.061</b><span class="pm">±</span><b>0.006</b></div>
</body></html>
